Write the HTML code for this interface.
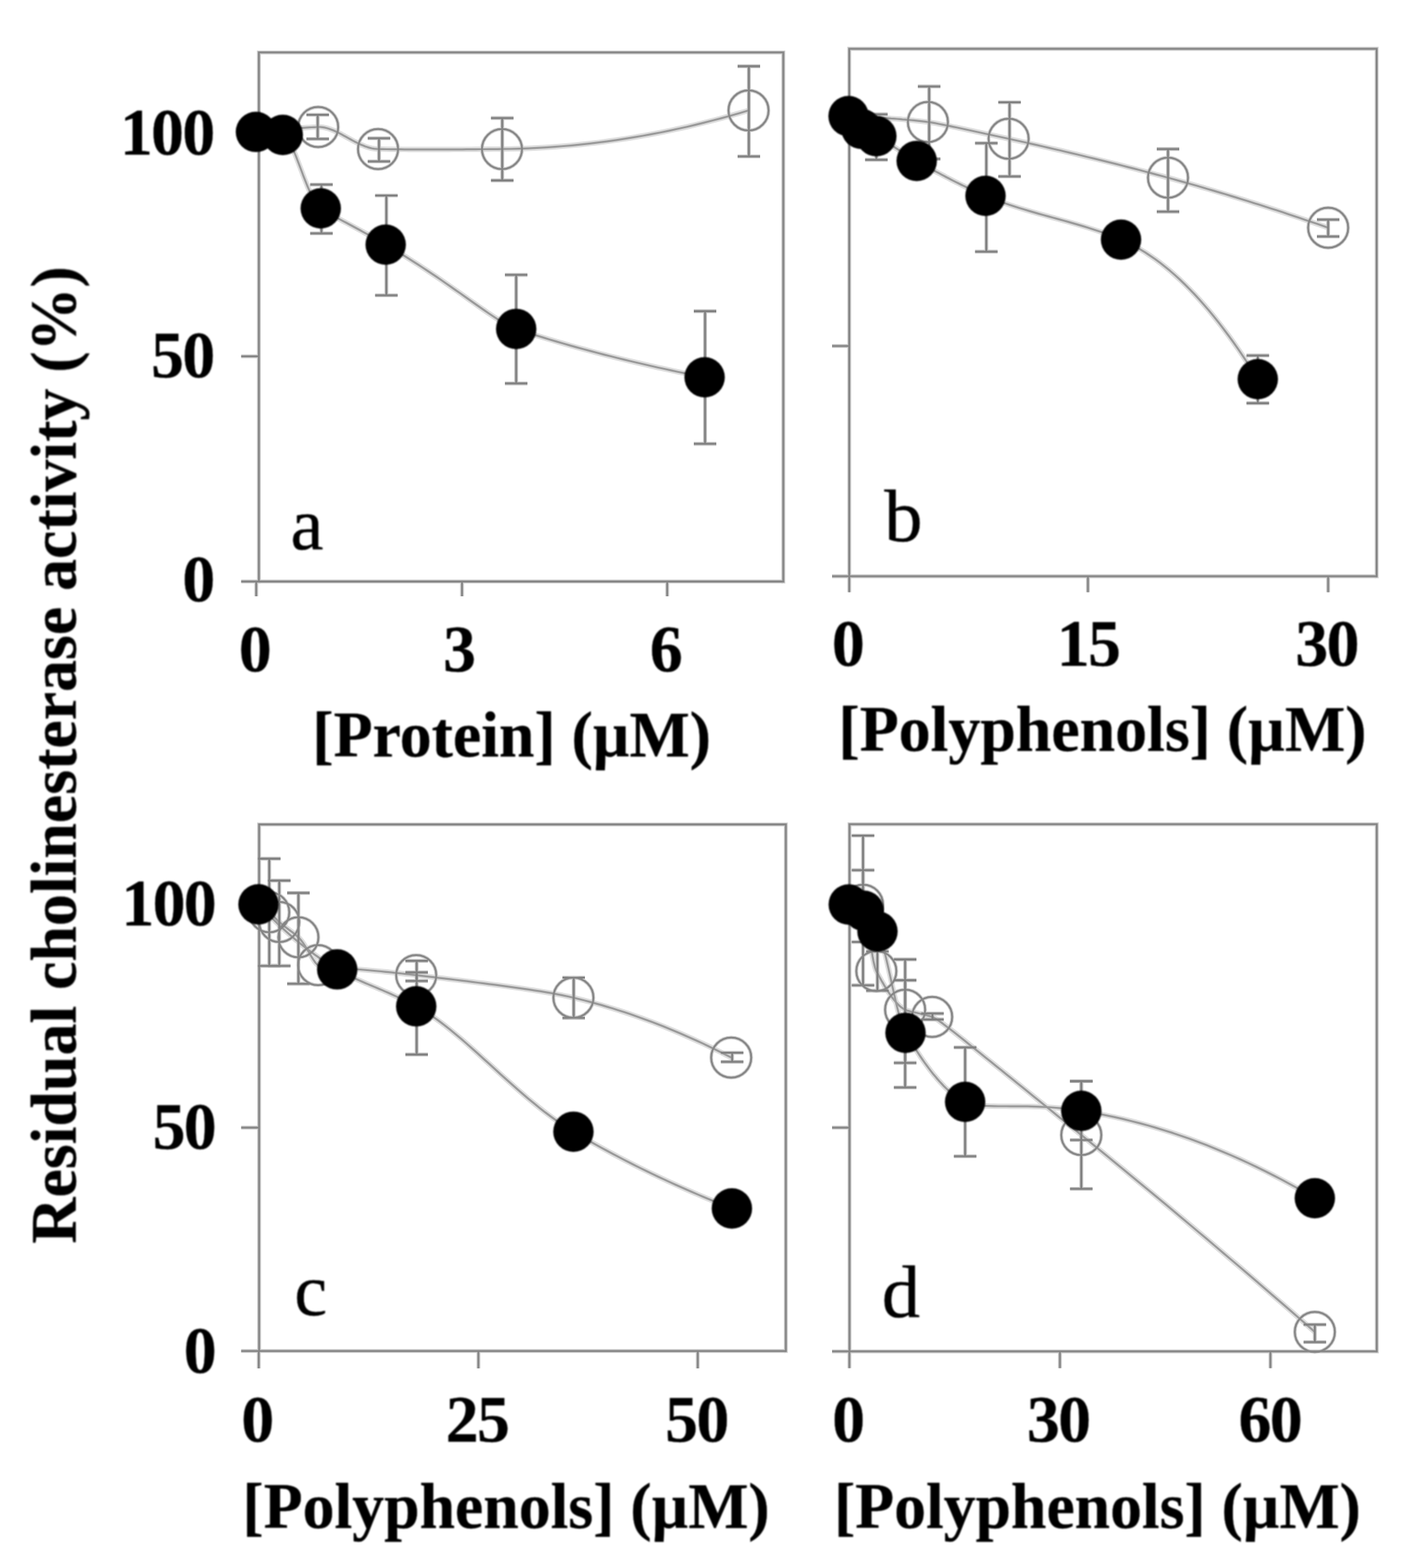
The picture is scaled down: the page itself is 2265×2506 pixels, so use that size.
<!DOCTYPE html>
<html lang="en">
<head>
<meta charset="utf-8">
<title>Residual cholinesterase activity</title>
<style>
html,body{margin:0;padding:0;background:#fff;}
body{width:2265px;height:2506px;overflow:hidden;}
svg{display:block;}
text{font-family:"Liberation Serif","DejaVu Serif",serif;fill:#000;stroke:#000;stroke-linejoin:round;}
</style>
</head>
<body>
<svg width="2265" height="2506" viewBox="0 0 2265 2506">
<defs>
<filter id="bl" x="0" y="0" width="2265" height="2506" filterUnits="userSpaceOnUse" color-interpolation-filters="sRGB"><feGaussianBlur stdDeviation="0.75"/></filter>
<filter id="bm" x="0" y="0" width="2265" height="2506" filterUnits="userSpaceOnUse" color-interpolation-filters="sRGB"><feGaussianBlur stdDeviation="1.0"/></filter>
<filter id="bt" x="0" y="0" width="2265" height="2506" filterUnits="userSpaceOnUse" color-interpolation-filters="sRGB"><feGaussianBlur stdDeviation="1.1"/></filter>
</defs>
<rect x="0" y="0" width="2265" height="2506" fill="#fff"/>
<g id="lines" filter="url(#bl)">
<g id="halo">
<path d="M413.8,929.4 V83.8 H1252.1 V929.4" fill="none" stroke-linecap="square" stroke="#cecece" stroke-width="6.3"/>
<line x1="385.5" y1="929.4" x2="1252.1" y2="929.4" stroke="#cecece" stroke-width="6.3"/>
<line x1="385.5" y1="569.5" x2="413.8" y2="569.5" stroke="#cecece" stroke-width="6.3"/>
<line x1="409.6" y1="929.4" x2="409.6" y2="953" stroke="#cecece" stroke-width="6.3"/>
<line x1="738.5" y1="929.4" x2="738.5" y2="953" stroke="#cecece" stroke-width="6.3"/>
<line x1="1066.5" y1="929.4" x2="1066.5" y2="953" stroke="#cecece" stroke-width="6.3"/>
<path d="M409.1,210.8 L412.7,210.4 L416.2,210 L419.8,209.7 L423.3,209.3 L426.9,208.9 L430.4,208.6 L434,208.2 L437.5,207.9 L441.1,207.6 L444.6,207.3 L448.2,207 L451.7,206.7 L455.3,206.4 L458.9,206.1 L462.4,205.8 L466,205.6 L469.5,205.3 L473.1,205 L476.6,204.8 L480.2,204.6 L483.7,204.3 L487.3,204.1 L490.8,203.9 L494.4,203.7 L497.9,203.5 L501.5,203.3 L505,203.2 L508.6,203 L512,203 L515.4,203.3 L518.9,203.9 L522.3,204.7 L525.7,205.7 L529.1,206.9 L532.5,208.3 L535.9,209.8 L539.4,211.4 L542.8,213.1 L546.2,214.9 L549.6,216.8 L553,218.7 L556.5,220.6 L559.9,222.5 L563.3,224.4 L566.7,226.2 L570.1,227.9 L573.5,229.6 L577,231.2 L580.4,232.6 L583.8,234 L587.2,235.1 L590.6,236.1 L594,237 L597.5,237.6 L600.9,238 L604.3,238.2 L611.4,238.3 L618.4,238.5 L625.5,238.6 L632.6,238.7 L639.7,238.7 L646.8,238.8 L653.8,238.9 L660.9,238.9 L668,238.9 L675,238.9 L682.1,238.9 L689.2,238.9 L696.3,238.9 L703.3,238.9 L710.4,238.9 L717.5,238.9 L724.6,238.8 L731.6,238.8 L738.7,238.8 L745.8,238.7 L752.9,238.7 L760,238.6 L767,238.5 L774.1,238.5 L781.2,238.4 L788.2,238.3 L795.3,238.3 L802.4,238.2 L816.5,238 L830.5,237.6 L844.6,237.1 L858.7,236.4 L872.8,235.6 L886.8,234.6 L900.9,233.5 L915,232.3 L929.1,230.9 L943.1,229.3 L957.2,227.7 L971.3,225.8 L985.4,223.8 L999.4,221.7 L1013.5,219.4 L1027.6,217 L1041.7,214.4 L1055.8,211.7 L1069.8,208.9 L1083.9,205.8 L1098,202.7 L1112,199.4 L1126.1,195.9 L1140.2,192.3 L1154.3,188.6 L1168.3,184.7 L1182.4,180.7 L1196.5,176.5" fill="none" stroke-linejoin="round" stroke="#dedede" stroke-width="8.6"/>
<path d="M409.1,210.8 L410.6,211 L412.2,211.1 L413.7,211.3 L415.2,211.5 L416.8,211.6 L418.3,211.8 L419.8,212 L421.4,212.1 L422.9,212.3 L424.4,212.5 L426,212.6 L427.5,212.8 L429,213 L430.6,213.1 L432.1,213.3 L433.6,213.5 L435.1,213.7 L436.7,213.8 L438.2,214 L439.7,214.2 L441.3,214.4 L442.8,214.5 L444.3,214.7 L445.9,214.9 L447.4,215.1 L448.9,215.2 L450.5,215.4 L452,215.6 L454.2,216.3 L456.3,217.9 L458.5,220.3 L460.7,223.4 L462.8,227 L465,231.2 L467.2,235.8 L469.3,240.7 L471.5,246 L473.7,251.4 L475.8,257 L478,262.8 L480.2,268.5 L482.4,274.3 L484.5,280 L486.7,285.7 L488.9,291.2 L491,296.5 L493.2,301.6 L495.4,306.5 L497.5,311.1 L499.7,315.4 L501.9,319.4 L504,322.9 L506.2,326.1 L508.4,328.9 L510.5,331.2 L512.7,333 L516.4,335.5 L520.1,337.8 L523.8,340 L527.5,342.1 L531.2,344.2 L534.9,346.2 L538.7,348.2 L542.4,350.1 L546.1,352.1 L549.8,354.1 L553.5,356 L557.2,358 L560.9,360 L564.6,362 L568.3,364 L572,366 L575.7,368 L579.4,370.1 L583.1,372.1 L586.8,374.1 L590.5,376.2 L594.3,378.3 L598,380.4 L601.7,382.5 L605.4,384.6 L609.1,386.7 L612.8,388.8 L616.5,391 L624,395.4 L631.4,399.8 L638.9,404.3 L646.3,408.9 L653.8,413.6 L661.2,418.3 L668.7,423.1 L676.1,428 L683.5,432.9 L691,437.9 L698.5,442.9 L705.9,448 L713.4,453.2 L720.8,458.4 L728.2,463.6 L735.7,468.8 L743.2,474.1 L750.6,479.4 L758,484.6 L765.5,489.9 L773,495.1 L780.4,500.2 L787.9,505.3 L795.3,510.1 L802.8,514.7 L810.2,519 L817.7,522.7 L825.1,525.7 L835.9,529.2 L846.6,532.7 L857.4,536.1 L868.1,539.4 L878.9,542.7 L889.6,545.9 L900.4,549 L911.2,552.1 L921.9,555.1 L932.7,558 L943.4,560.9 L954.2,563.8 L964.9,566.6 L975.7,569.3 L986.5,572 L997.2,574.6 L1008,577.2 L1018.7,579.8 L1029.5,582.3 L1040.2,584.7 L1051,587.2 L1061.8,589.5 L1072.5,591.9 L1083.3,594.2 L1094,596.4 L1104.8,598.7 L1115.5,600.8 L1126.3,603" fill="none" stroke-linejoin="round" stroke="#dedede" stroke-width="8.6"/>
<line x1="507.8" y1="183.5" x2="507.8" y2="222" stroke="#c6c6c6" stroke-width="6.2"/>
<line x1="489.8" y1="183.5" x2="525.8" y2="183.5" stroke="#c6c6c6" stroke-width="6.2"/>
<line x1="489.8" y1="222" x2="525.8" y2="222" stroke="#c6c6c6" stroke-width="6.2"/>
<line x1="605.8" y1="221" x2="605.8" y2="258" stroke="#c6c6c6" stroke-width="6.2"/>
<line x1="587.8" y1="221" x2="623.8" y2="221" stroke="#c6c6c6" stroke-width="6.2"/>
<line x1="587.8" y1="258" x2="623.8" y2="258" stroke="#c6c6c6" stroke-width="6.2"/>
<line x1="802.8" y1="188.7" x2="802.8" y2="288.4" stroke="#c6c6c6" stroke-width="6.2"/>
<line x1="784.8" y1="188.7" x2="820.8" y2="188.7" stroke="#c6c6c6" stroke-width="6.2"/>
<line x1="784.8" y1="288.4" x2="820.8" y2="288.4" stroke="#c6c6c6" stroke-width="6.2"/>
<line x1="1197" y1="105.9" x2="1197" y2="250" stroke="#c6c6c6" stroke-width="6.2"/>
<line x1="1179" y1="105.9" x2="1215" y2="105.9" stroke="#c6c6c6" stroke-width="6.2"/>
<line x1="1179" y1="250" x2="1215" y2="250" stroke="#c6c6c6" stroke-width="6.2"/>
<circle cx="508.6" cy="203" r="31.999999999999996" fill="none" stroke="#d2d2d2" stroke-width="5.9"/>
<circle cx="604.3" cy="238.2" r="31.999999999999996" fill="none" stroke="#d2d2d2" stroke-width="5.9"/>
<circle cx="802.4" cy="238.2" r="31.999999999999996" fill="none" stroke="#d2d2d2" stroke-width="5.9"/>
<circle cx="1196.5" cy="176.5" r="31.999999999999996" fill="none" stroke="#d2d2d2" stroke-width="5.9"/>
<line x1="513.8" y1="295" x2="513.8" y2="373" stroke="#c6c6c6" stroke-width="6.2"/>
<line x1="495.8" y1="295" x2="531.8" y2="295" stroke="#c6c6c6" stroke-width="6.2"/>
<line x1="495.8" y1="373" x2="531.8" y2="373" stroke="#c6c6c6" stroke-width="6.2"/>
<line x1="617.6" y1="312.5" x2="617.6" y2="472" stroke="#c6c6c6" stroke-width="6.2"/>
<line x1="599.6" y1="312.5" x2="635.6" y2="312.5" stroke="#c6c6c6" stroke-width="6.2"/>
<line x1="599.6" y1="472" x2="635.6" y2="472" stroke="#c6c6c6" stroke-width="6.2"/>
<line x1="825.1" y1="439.3" x2="825.1" y2="612.8" stroke="#c6c6c6" stroke-width="6.2"/>
<line x1="807.1" y1="439.3" x2="843.1" y2="439.3" stroke="#c6c6c6" stroke-width="6.2"/>
<line x1="807.1" y1="612.8" x2="843.1" y2="612.8" stroke="#c6c6c6" stroke-width="6.2"/>
<line x1="1127" y1="497.4" x2="1127" y2="709.3" stroke="#c6c6c6" stroke-width="6.2"/>
<line x1="1109" y1="497.4" x2="1145" y2="497.4" stroke="#c6c6c6" stroke-width="6.2"/>
<line x1="1109" y1="709.3" x2="1145" y2="709.3" stroke="#c6c6c6" stroke-width="6.2"/>
<path d="M1357.5,921 V78 H2200.5 V921" fill="none" stroke-linecap="square" stroke="#cecece" stroke-width="6.3"/>
<line x1="1330" y1="921" x2="2200.5" y2="921" stroke="#cecece" stroke-width="6.3"/>
<line x1="1330" y1="553" x2="1357.5" y2="553" stroke="#cecece" stroke-width="6.3"/>
<line x1="1357.5" y1="921" x2="1357.5" y2="946.5" stroke="#cecece" stroke-width="6.3"/>
<line x1="1739" y1="921" x2="1739" y2="946.5" stroke="#cecece" stroke-width="6.3"/>
<line x1="2123" y1="921" x2="2123" y2="946.5" stroke="#cecece" stroke-width="6.3"/>
<path d="M1356.4,185.6 L1360.9,185.8 L1365.5,186 L1370,186.2 L1374.5,186.4 L1379,186.6 L1383.6,186.9 L1388.1,187.1 L1392.6,187.4 L1397.2,187.6 L1401.7,187.9 L1406.2,188.2 L1410.7,188.4 L1415.3,188.7 L1419.8,189 L1424.3,189.4 L1428.9,189.7 L1433.4,190 L1437.9,190.4 L1442.4,190.8 L1447,191.1 L1451.5,191.6 L1456,192 L1460.6,192.4 L1465.1,192.9 L1469.6,193.4 L1474.1,193.9 L1478.7,194.4 L1483.2,195 L1487.8,195.7 L1492.4,196.4 L1497,197.3 L1501.6,198.2 L1506.2,199.1 L1510.8,200 L1515.5,200.9 L1520.1,201.9 L1524.7,202.9 L1529.3,203.8 L1533.9,204.8 L1538.5,205.8 L1543.1,206.8 L1547.7,207.8 L1552.3,208.8 L1556.9,209.8 L1561.5,210.7 L1566.1,211.7 L1570.7,212.7 L1575.3,213.8 L1580,214.8 L1584.6,215.8 L1589.2,216.8 L1593.8,217.8 L1598.4,218.8 L1603,219.8 L1607.6,220.8 L1612.2,221.8 L1621.3,223.8 L1630.4,225.8 L1639.5,227.8 L1648.6,229.9 L1657.7,231.9 L1666.8,234 L1675.9,236.1 L1685,238.2 L1694.1,240.3 L1703.2,242.5 L1712.3,244.6 L1721.4,246.8 L1730.5,249 L1739.6,251.2 L1748.7,253.4 L1757.8,255.6 L1766.9,257.9 L1776,260.1 L1785.1,262.4 L1794.2,264.7 L1803.3,267.1 L1812.4,269.4 L1821.5,271.8 L1830.6,274.2 L1839.7,276.6 L1848.8,279.1 L1857.9,281.5 L1867,284 L1876.1,286.5 L1885.3,289.1 L1894.4,291.6 L1903.6,294.2 L1912.7,296.8 L1921.9,299.5 L1931,302.2 L1940.1,304.9 L1949.3,307.6 L1958.4,310.3 L1967.6,313.1 L1976.7,315.9 L1985.9,318.7 L1995,321.5 L2004.1,324.4 L2013.3,327.3 L2022.4,330.2 L2031.6,333.2 L2040.7,336.1 L2049.9,339.1 L2059,342.2 L2068.1,345.2 L2077.3,348.3 L2086.4,351.4 L2095.6,354.5 L2104.7,357.6 L2113.9,360.8 L2123,364" fill="none" stroke-linejoin="round" stroke="#dedede" stroke-width="8.6"/>
<path d="M1356.4,185.6 L1357.1,186.6 L1357.9,187.6 L1358.6,188.5 L1359.3,189.5 L1360.1,190.4 L1360.8,191.3 L1361.6,192.1 L1362.3,193 L1363,193.8 L1363.8,194.7 L1364.5,195.4 L1365.2,196.2 L1366,197 L1366.7,197.7 L1367.4,198.4 L1368.2,199.1 L1368.9,199.8 L1369.6,200.5 L1370.4,201.1 L1371.1,201.7 L1371.8,202.3 L1372.6,202.9 L1373.3,203.5 L1374.1,204 L1374.8,204.5 L1375.5,205.1 L1376.3,205.5 L1377,206 L1377.8,206.5 L1378.7,207 L1379.5,207.4 L1380.4,207.8 L1381.2,208.2 L1382.1,208.6 L1383,209 L1383.8,209.4 L1384.7,209.8 L1385.5,210.2 L1386.3,210.6 L1387.2,211 L1388,211.4 L1388.9,211.8 L1389.8,212.2 L1390.6,212.6 L1391.5,213 L1392.3,213.4 L1393.1,213.8 L1394,214.2 L1394.8,214.6 L1395.7,215 L1396.5,215.5 L1397.4,215.9 L1398.2,216.3 L1399.1,216.7 L1400,217.2 L1400.8,217.6 L1403.1,218.8 L1405.4,220.1 L1407.7,221.4 L1410,222.8 L1412.3,224.2 L1414.6,225.6 L1416.9,227 L1419.2,228.5 L1421.5,230 L1423.8,231.4 L1426.1,232.9 L1428.4,234.4 L1430.7,235.9 L1433,237.4 L1435.4,238.9 L1437.7,240.4 L1440,241.8 L1442.3,243.3 L1444.6,244.8 L1446.9,246.2 L1449.2,247.6 L1451.5,249 L1453.8,250.4 L1456.1,251.8 L1458.4,253.2 L1460.7,254.6 L1463,255.9 L1465.3,257.2 L1469.2,259.4 L1473.2,261.6 L1477.1,263.8 L1481,266 L1484.9,268.2 L1488.9,270.3 L1492.8,272.5 L1496.7,274.6 L1500.7,276.7 L1504.6,278.8 L1508.5,280.9 L1512.4,283 L1516.4,285 L1520.3,287.1 L1524.2,289.1 L1528.2,291.1 L1532.1,293 L1536,295 L1539.9,296.9 L1543.9,298.8 L1547.8,300.7 L1551.7,302.5 L1555.7,304.3 L1559.6,306.1 L1563.5,307.9 L1567.4,309.6 L1571.4,311.3 L1575.3,313 L1583,316.2 L1590.8,319.2 L1598.5,322.1 L1606.2,324.8 L1614,327.5 L1621.7,330 L1629.5,332.5 L1637.2,334.8 L1644.9,337.1 L1652.7,339.4 L1660.4,341.6 L1668.1,343.7 L1675.9,345.9 L1683.6,348 L1691.3,350.1 L1699.1,352.3 L1706.8,354.4 L1714.5,356.6 L1722.3,358.9 L1730,361.1 L1737.8,363.5 L1745.5,366 L1753.2,368.5 L1761,371.1 L1768.7,373.9 L1776.4,376.8 L1784.2,379.8 L1791.9,383 L1799.7,386.5 L1807.5,390.3 L1815.3,394.4 L1823.1,398.8 L1830.9,403.6 L1838.7,408.8 L1846.6,414.2 L1854.4,420 L1862.2,426.2 L1870,432.6 L1877.8,439.4 L1885.6,446.5 L1893.4,454 L1901.2,461.8 L1909,469.9 L1916.8,478.4 L1924.6,487.2 L1932.4,496.3 L1940.2,505.8 L1948,515.6 L1955.8,525.7 L1963.7,536.2 L1971.5,547 L1979.3,558.1 L1987.1,569.6 L1994.9,581.4 L2002.7,593.5 L2010.5,606" fill="none" stroke-linejoin="round" stroke="#dedede" stroke-width="8.6"/>
<line x1="1485.2" y1="138.2" x2="1485.2" y2="254" stroke="#c6c6c6" stroke-width="6.2"/>
<line x1="1467.2" y1="138.2" x2="1503.2" y2="138.2" stroke="#c6c6c6" stroke-width="6.2"/>
<line x1="1467.2" y1="254" x2="1503.2" y2="254" stroke="#c6c6c6" stroke-width="6.2"/>
<line x1="1613.7" y1="163.5" x2="1613.7" y2="282" stroke="#c6c6c6" stroke-width="6.2"/>
<line x1="1595.7" y1="163.5" x2="1631.7" y2="163.5" stroke="#c6c6c6" stroke-width="6.2"/>
<line x1="1595.7" y1="282" x2="1631.7" y2="282" stroke="#c6c6c6" stroke-width="6.2"/>
<line x1="1867" y1="238.2" x2="1867" y2="338.3" stroke="#c6c6c6" stroke-width="6.2"/>
<line x1="1849" y1="238.2" x2="1885" y2="238.2" stroke="#c6c6c6" stroke-width="6.2"/>
<line x1="1849" y1="338.3" x2="1885" y2="338.3" stroke="#c6c6c6" stroke-width="6.2"/>
<line x1="2123" y1="351" x2="2123" y2="378" stroke="#c6c6c6" stroke-width="6.2"/>
<line x1="2105" y1="351" x2="2141" y2="351" stroke="#c6c6c6" stroke-width="6.2"/>
<line x1="2105" y1="378" x2="2141" y2="378" stroke="#c6c6c6" stroke-width="6.2"/>
<circle cx="1483.2" cy="195" r="31.999999999999996" fill="none" stroke="#d2d2d2" stroke-width="5.9"/>
<circle cx="1612.2" cy="221.8" r="31.999999999999996" fill="none" stroke="#d2d2d2" stroke-width="5.9"/>
<circle cx="1867" cy="284" r="31.999999999999996" fill="none" stroke="#d2d2d2" stroke-width="5.9"/>
<circle cx="2123" cy="364" r="31.999999999999996" fill="none" stroke="#d2d2d2" stroke-width="5.9"/>
<line x1="1400.8" y1="182.7" x2="1400.8" y2="255.4" stroke="#c6c6c6" stroke-width="6.2"/>
<line x1="1382.8" y1="182.7" x2="1418.8" y2="182.7" stroke="#c6c6c6" stroke-width="6.2"/>
<line x1="1382.8" y1="255.4" x2="1418.8" y2="255.4" stroke="#c6c6c6" stroke-width="6.2"/>
<line x1="1576.6" y1="228.8" x2="1576.6" y2="402.2" stroke="#c6c6c6" stroke-width="6.2"/>
<line x1="1558.6" y1="228.8" x2="1594.6" y2="228.8" stroke="#c6c6c6" stroke-width="6.2"/>
<line x1="1558.6" y1="402.2" x2="1594.6" y2="402.2" stroke="#c6c6c6" stroke-width="6.2"/>
<line x1="2010.5" y1="568.2" x2="2010.5" y2="644.4" stroke="#c6c6c6" stroke-width="6.2"/>
<line x1="1992.5" y1="568.2" x2="2028.5" y2="568.2" stroke="#c6c6c6" stroke-width="6.2"/>
<line x1="1992.5" y1="644.4" x2="2028.5" y2="644.4" stroke="#c6c6c6" stroke-width="6.2"/>
<path d="M414.2,2159.2 V1317.6 H1256.1 V2159.2" fill="none" stroke-linecap="square" stroke="#cecece" stroke-width="6.3"/>
<line x1="385.5" y1="2159.2" x2="1256.1" y2="2159.2" stroke="#cecece" stroke-width="6.3"/>
<line x1="385.5" y1="1802.2" x2="414.2" y2="1802.2" stroke="#cecece" stroke-width="6.3"/>
<line x1="413.6" y1="2159.2" x2="413.6" y2="2187" stroke="#cecece" stroke-width="6.3"/>
<line x1="764.7" y1="2159.2" x2="764.7" y2="2187" stroke="#cecece" stroke-width="6.3"/>
<line x1="1115.3" y1="2159.2" x2="1115.3" y2="2187" stroke="#cecece" stroke-width="6.3"/>
<path d="M413.2,1445.4 L413.8,1445.8 L414.4,1446.2 L415,1446.6 L415.7,1447 L416.3,1447.4 L416.9,1447.8 L417.5,1448.3 L418.1,1448.7 L418.7,1449.1 L419.3,1449.5 L420,1450 L420.6,1450.4 L421.2,1450.9 L421.8,1451.3 L422.4,1451.8 L423,1452.2 L423.6,1452.7 L424.3,1453.1 L424.9,1453.6 L425.5,1454.1 L426.1,1454.5 L426.7,1455 L427.3,1455.5 L427.9,1456 L428.6,1456.5 L429.2,1457 L429.8,1457.5 L430.4,1458 L431,1458.5 L431.5,1459 L432.1,1459.5 L432.7,1460 L433.3,1460.6 L433.8,1461.1 L434.4,1461.7 L435,1462.3 L435.5,1462.9 L436.1,1463.4 L436.7,1464 L437.3,1464.6 L437.8,1465.2 L438.4,1465.8 L439,1466.3 L439.5,1466.9 L440.1,1467.5 L440.7,1468.1 L441.3,1468.6 L441.8,1469.2 L442.4,1469.7 L443,1470.3 L443.5,1470.8 L444.1,1471.4 L444.7,1471.9 L445.3,1472.5 L445.8,1473 L446.4,1473.5 L447.5,1474.5 L448.6,1475.4 L449.7,1476.4 L450.8,1477.3 L451.9,1478.2 L453,1479.1 L454,1479.9 L455.1,1480.8 L456.2,1481.6 L457.3,1482.5 L458.4,1483.3 L459.5,1484.1 L460.6,1484.9 L461.7,1485.8 L462.8,1486.6 L463.9,1487.4 L465,1488.2 L466.1,1489 L467.2,1489.8 L468.3,1490.6 L469.3,1491.5 L470.4,1492.3 L471.5,1493.2 L472.6,1494.1 L473.7,1495 L474.8,1496 L475.9,1497 L477,1498 L478.1,1499.1 L479.2,1500.4 L480.4,1501.7 L481.5,1503.1 L482.6,1504.5 L483.8,1506.1 L484.9,1507.7 L486,1509.3 L487.1,1511 L488.2,1512.8 L489.4,1514.6 L490.5,1516.5 L491.6,1518.3 L492.8,1520.2 L493.9,1522.2 L495,1524.1 L496.1,1526 L497.2,1527.9 L498.4,1529.8 L499.5,1531.6 L500.6,1533.4 L501.8,1535.1 L502.9,1536.7 L504,1538.2 L505.1,1539.5 L506.2,1540.7 L507.4,1541.7 L508.5,1542.5 L514.1,1544.2 L519.7,1545 L525.3,1545.6 L530.9,1546 L536.5,1546.5 L542.1,1546.9 L547.7,1547.3 L553.3,1547.8 L558.9,1548.2 L564.5,1548.6 L570.1,1549.1 L575.7,1549.5 L581.3,1550 L586.9,1550.5 L592.5,1551 L598.1,1551.5 L603.7,1552 L609.3,1552.5 L614.9,1553.1 L620.5,1553.6 L626.1,1554.2 L631.7,1554.8 L637.3,1555.4 L642.9,1556 L648.5,1556.6 L654.1,1557.2 L659.7,1557.8 L665.3,1558.5 L674.3,1559.6 L683.2,1560.6 L692.2,1561.7 L701.2,1562.8 L710.2,1563.8 L719.1,1564.9 L728.1,1566 L737.1,1567.1 L746.1,1568.2 L755,1569.3 L764,1570.5 L773,1571.6 L782,1572.8 L791,1573.9 L799.9,1575.1 L808.9,1576.3 L817.9,1577.6 L826.9,1578.8 L835.8,1580.1 L844.8,1581.4 L853.8,1582.8 L862.8,1584.2 L871.7,1585.7 L880.7,1587.2 L889.7,1588.9 L898.7,1590.6 L907.6,1592.5 L916.6,1594.5 L925.6,1596.7 L934.6,1599 L943.6,1601.4 L952.6,1603.9 L961.6,1606.4 L970.6,1609.1 L979.6,1611.8 L988.7,1614.7 L997.7,1617.6 L1006.7,1620.6 L1015.7,1623.7 L1024.7,1626.9 L1033.7,1630.2 L1042.7,1633.5 L1051.7,1637 L1060.7,1640.6 L1069.7,1644.2 L1078.7,1647.9 L1087.7,1651.8 L1096.7,1655.7 L1105.8,1659.7 L1114.8,1663.8 L1123.8,1667.9 L1132.8,1672.2 L1141.8,1676.6 L1150.8,1681 L1159.8,1685.6 L1168.8,1690.2" fill="none" stroke-linejoin="round" stroke="#dedede" stroke-width="8.6"/>
<path d="M413.2,1445.4 L417.7,1450.1 L422.2,1454.8 L426.7,1459.4 L431.2,1463.9 L435.7,1468.3 L440.2,1472.7 L444.6,1477 L449.1,1481.2 L453.6,1485.3 L458.1,1489.4 L462.6,1493.4 L467.1,1497.3 L471.6,1501.1 L476.1,1504.8 L480.6,1508.5 L485.1,1512.1 L489.6,1515.6 L494.1,1519.1 L498.6,1522.4 L503.1,1525.7 L507.6,1528.9 L512,1532.1 L516.5,1535.1 L521,1538.1 L525.5,1541 L530,1543.9 L534.5,1546.6 L539,1549.3 L543.5,1551.9 L548,1554.3 L552.5,1556.7 L557,1558.9 L561.6,1561.1 L566.1,1563.2 L570.6,1565.3 L575.1,1567.3 L579.6,1569.2 L584.1,1571.2 L588.6,1573.1 L593.1,1575 L597.6,1576.9 L602.1,1578.8 L606.7,1580.7 L611.2,1582.6 L615.7,1584.6 L620.2,1586.5 L624.7,1588.5 L629.2,1590.6 L633.7,1592.6 L638.2,1594.7 L642.7,1596.9 L647.3,1599.1 L651.8,1601.3 L656.3,1603.6 L660.8,1605.9 L665.3,1608.3 L674.3,1613.4 L683.2,1619 L692.2,1625 L701.2,1631.4 L710.2,1638.2 L719.1,1645.3 L728.1,1652.7 L737.1,1660.3 L746.1,1668.1 L755,1676 L764,1684 L773,1692.2 L782,1700.3 L791,1708.5 L799.9,1716.7 L808.9,1724.8 L817.9,1732.8 L826.9,1740.7 L835.8,1748.5 L844.8,1756.2 L853.8,1763.6 L862.8,1770.9 L871.7,1777.9 L880.7,1784.6 L889.7,1791.1 L898.7,1797.3 L907.6,1803.2 L916.6,1808.7 L925.6,1814 L934.7,1819.3 L943.7,1824.5 L952.8,1829.6 L961.8,1834.6 L970.9,1839.5 L979.9,1844.4 L989,1849.2 L998,1853.9 L1007.1,1858.5 L1016.1,1863.1 L1025.2,1867.6 L1034.2,1872 L1043.2,1876.4 L1052.3,1880.7 L1061.3,1884.9 L1070.4,1889.1 L1079.4,1893.2 L1088.5,1897.3 L1097.5,1901.3 L1106.6,1905.3 L1115.6,1909.1 L1124.7,1913 L1133.7,1916.8 L1142.8,1920.5 L1151.8,1924.2 L1160.9,1927.8 L1169.9,1931.4" fill="none" stroke-linejoin="round" stroke="#dedede" stroke-width="8.6"/>
<line x1="430.4" y1="1372.4" x2="430.4" y2="1543.7" stroke="#c6c6c6" stroke-width="6.2"/>
<line x1="412.4" y1="1372.4" x2="448.4" y2="1372.4" stroke="#c6c6c6" stroke-width="6.2"/>
<line x1="412.4" y1="1543.7" x2="448.4" y2="1543.7" stroke="#c6c6c6" stroke-width="6.2"/>
<line x1="446.4" y1="1407.4" x2="446.4" y2="1543.7" stroke="#c6c6c6" stroke-width="6.2"/>
<line x1="428.4" y1="1407.4" x2="464.4" y2="1407.4" stroke="#c6c6c6" stroke-width="6.2"/>
<line x1="428.4" y1="1543.7" x2="464.4" y2="1543.7" stroke="#c6c6c6" stroke-width="6.2"/>
<line x1="477" y1="1427.1" x2="477" y2="1572.3" stroke="#c6c6c6" stroke-width="6.2"/>
<line x1="459" y1="1427.1" x2="495" y2="1427.1" stroke="#c6c6c6" stroke-width="6.2"/>
<line x1="459" y1="1572.3" x2="495" y2="1572.3" stroke="#c6c6c6" stroke-width="6.2"/>
<line x1="666" y1="1554.1" x2="666" y2="1567.8" stroke="#c6c6c6" stroke-width="6.2"/>
<line x1="648" y1="1554.1" x2="684" y2="1554.1" stroke="#c6c6c6" stroke-width="6.2"/>
<line x1="648" y1="1567.8" x2="684" y2="1567.8" stroke="#c6c6c6" stroke-width="6.2"/>
<line x1="917" y1="1562.5" x2="917" y2="1626.8" stroke="#c6c6c6" stroke-width="6.2"/>
<line x1="899" y1="1562.5" x2="935" y2="1562.5" stroke="#c6c6c6" stroke-width="6.2"/>
<line x1="899" y1="1626.8" x2="935" y2="1626.8" stroke="#c6c6c6" stroke-width="6.2"/>
<line x1="1170.3" y1="1682.5" x2="1170.3" y2="1697" stroke="#c6c6c6" stroke-width="6.2"/>
<line x1="1152.3" y1="1682.5" x2="1188.3" y2="1682.5" stroke="#c6c6c6" stroke-width="6.2"/>
<line x1="1152.3" y1="1697" x2="1188.3" y2="1697" stroke="#c6c6c6" stroke-width="6.2"/>
<circle cx="430.4" cy="1458" r="31.999999999999996" fill="none" stroke="#d2d2d2" stroke-width="5.9"/>
<circle cx="446.4" cy="1473.5" r="31.999999999999996" fill="none" stroke="#d2d2d2" stroke-width="5.9"/>
<circle cx="477" cy="1498" r="31.999999999999996" fill="none" stroke="#d2d2d2" stroke-width="5.9"/>
<circle cx="508.5" cy="1542.5" r="31.999999999999996" fill="none" stroke="#d2d2d2" stroke-width="5.9"/>
<circle cx="665.3" cy="1558.5" r="31.999999999999996" fill="none" stroke="#d2d2d2" stroke-width="5.9"/>
<circle cx="916.6" cy="1594.5" r="31.999999999999996" fill="none" stroke="#d2d2d2" stroke-width="5.9"/>
<circle cx="1168.8" cy="1690.2" r="31.999999999999996" fill="none" stroke="#d2d2d2" stroke-width="5.9"/>
<line x1="666" y1="1535.6" x2="666" y2="1685.4" stroke="#c6c6c6" stroke-width="6.2"/>
<line x1="648" y1="1535.6" x2="684" y2="1535.6" stroke="#c6c6c6" stroke-width="6.2"/>
<line x1="648" y1="1685.4" x2="684" y2="1685.4" stroke="#c6c6c6" stroke-width="6.2"/>
<path d="M1357.9,2159.8 V1317.3 H2200.7 V2159.8" fill="none" stroke-linecap="square" stroke="#cecece" stroke-width="6.3"/>
<line x1="1330" y1="2159.8" x2="2200.7" y2="2159.8" stroke="#cecece" stroke-width="6.3"/>
<line x1="1330" y1="1802.2" x2="1357.9" y2="1802.2" stroke="#cecece" stroke-width="6.3"/>
<line x1="1357.7" y1="2159.8" x2="1357.7" y2="2186.6" stroke="#cecece" stroke-width="6.3"/>
<line x1="1694.2" y1="2159.8" x2="1694.2" y2="2186.6" stroke="#cecece" stroke-width="6.3"/>
<line x1="2030.7" y1="2159.8" x2="2030.7" y2="2186.6" stroke="#cecece" stroke-width="6.3"/>
<path d="M1356.7,1445.6 L1357.5,1445.6 L1358.3,1445.6 L1359.1,1445.6 L1360,1445.6 L1360.8,1445.6 L1361.6,1445.6 L1362.4,1445.6 L1363.2,1445.6 L1364,1445.6 L1364.8,1445.6 L1365.7,1445.6 L1366.5,1445.6 L1367.3,1445.7 L1368.1,1445.7 L1368.9,1445.7 L1369.7,1445.7 L1370.5,1445.7 L1371.4,1445.7 L1372.2,1445.7 L1373,1445.7 L1373.8,1445.7 L1374.6,1445.8 L1375.4,1445.8 L1376.2,1445.8 L1377.1,1445.8 L1377.9,1445.9 L1378.7,1445.9 L1379.5,1446 L1380.3,1446.5 L1381,1447.9 L1381.8,1450 L1382.5,1452.8 L1383.3,1456.1 L1384.1,1459.9 L1384.8,1464 L1385.6,1468.5 L1386.3,1473.3 L1387.1,1478.2 L1387.9,1483.3 L1388.6,1488.5 L1389.4,1493.8 L1390.2,1499 L1390.9,1504.2 L1391.7,1509.3 L1392.4,1514.3 L1393.2,1519.1 L1394,1523.7 L1394.7,1528.1 L1395.5,1532.2 L1396.2,1536.1 L1397,1539.6 L1397.8,1542.9 L1398.5,1545.7 L1399.3,1548.2 L1400,1550.3 L1400.8,1552 L1402.4,1555.1 L1404.1,1558.2 L1405.7,1561.3 L1407.4,1564.2 L1409,1567.2 L1410.7,1570.1 L1412.3,1572.9 L1413.9,1575.7 L1415.6,1578.4 L1417.2,1581 L1418.9,1583.6 L1420.5,1586.1 L1422.2,1588.6 L1423.8,1590.9 L1425.4,1593.2 L1427.1,1595.4 L1428.7,1597.5 L1430.4,1599.6 L1432,1601.5 L1433.7,1603.3 L1435.3,1605.1 L1436.9,1606.7 L1438.6,1608.2 L1440.2,1609.6 L1441.9,1610.8 L1443.5,1611.9 L1445.2,1612.9 L1446.8,1613.7 L1448.3,1614.3 L1449.9,1614.9 L1451.4,1615.4 L1453,1615.8 L1454.5,1616.2 L1456.1,1616.6 L1457.6,1617 L1459.1,1617.3 L1460.7,1617.7 L1462.2,1618 L1463.8,1618.4 L1465.3,1618.7 L1466.9,1619.1 L1468.4,1619.5 L1469.9,1619.8 L1471.5,1620.2 L1473,1620.6 L1474.6,1620.9 L1476.1,1621.3 L1477.7,1621.7 L1479.2,1622.1 L1480.7,1622.5 L1482.3,1623 L1483.8,1623.4 L1485.4,1623.8 L1486.9,1624.3 L1488.5,1624.7 L1490,1625.2 L1498.5,1629.8 L1507,1635.9 L1515.5,1642.4 L1524.1,1649 L1532.6,1655.8 L1541.1,1662.5 L1549.6,1669.4 L1558.1,1676.2 L1566.6,1683.1 L1575.1,1689.9 L1583.7,1696.8 L1592.2,1703.7 L1600.7,1710.5 L1609.2,1717.4 L1617.7,1724.3 L1626.2,1731.2 L1634.7,1738.1 L1643.3,1745 L1651.8,1751.9 L1660.3,1758.8 L1668.8,1765.7 L1677.3,1772.6 L1685.8,1779.5 L1694.3,1786.4 L1702.9,1793.3 L1711.4,1800.2 L1719.9,1807.1 L1728.4,1814 L1741.7,1824.8 L1755.1,1835.7 L1768.4,1846.6 L1781.7,1857.5 L1795.1,1868.4 L1808.4,1879.4 L1821.7,1890.4 L1835.1,1901.5 L1848.4,1912.5 L1861.7,1923.6 L1875.1,1934.8 L1888.4,1945.9 L1901.7,1957.1 L1915,1968.4 L1928.4,1979.6 L1941.7,1990.9 L1955,2002.2 L1968.4,2013.6 L1981.7,2024.9 L1995,2036.3 L2008.4,2047.8 L2021.7,2059.2 L2035,2070.7 L2048.4,2082.3 L2061.7,2093.8 L2075,2105.4 L2088.4,2117 L2101.7,2128.7" fill="none" stroke-linejoin="round" stroke="#dedede" stroke-width="8.6"/>
<path d="M1356.7,1445.6 L1357.6,1445.8 L1358.4,1446.1 L1359.3,1446.3 L1360.1,1446.6 L1361,1446.9 L1361.8,1447.1 L1362.7,1447.4 L1363.6,1447.7 L1364.4,1448 L1365.3,1448.3 L1366.1,1448.6 L1367,1448.9 L1367.8,1449.3 L1368.7,1449.6 L1369.6,1449.9 L1370.4,1450.3 L1371.3,1450.7 L1372.1,1451 L1373,1451.4 L1373.8,1451.8 L1374.7,1452.3 L1375.6,1452.7 L1376.4,1453.1 L1377.3,1453.6 L1378.1,1454.1 L1379,1454.6 L1379.8,1455.1 L1380.7,1455.6 L1381.5,1456.2 L1382.3,1456.9 L1383,1457.8 L1383.8,1458.8 L1384.6,1459.8 L1385.4,1460.9 L1386.2,1462 L1387,1463.1 L1387.7,1464.3 L1388.5,1465.5 L1389.3,1466.7 L1390.1,1467.9 L1390.9,1469.2 L1391.7,1470.4 L1392.4,1471.7 L1393.2,1472.9 L1394,1474.2 L1394.8,1475.5 L1395.6,1476.8 L1396.3,1478.1 L1397.1,1479.4 L1397.9,1480.7 L1398.7,1482 L1399.5,1483.3 L1400.3,1484.6 L1401,1486 L1401.8,1487.3 L1402.6,1488.6 L1404.2,1491.6 L1405.8,1495.3 L1407.4,1499.5 L1409,1504.2 L1410.6,1509.4 L1412.2,1515 L1413.8,1521 L1415.4,1527.4 L1417,1534 L1418.6,1540.8 L1420.2,1547.9 L1421.8,1555.1 L1423.4,1562.3 L1425,1569.7 L1426.6,1577 L1428.2,1584.2 L1429.8,1591.4 L1431.4,1598.5 L1433,1605.3 L1434.6,1611.9 L1436.2,1618.3 L1437.8,1624.3 L1439.4,1629.9 L1441,1635.1 L1442.6,1639.8 L1444.2,1644 L1445.8,1647.7 L1447.4,1650.7 L1450.8,1656.4 L1454.2,1662 L1457.6,1667.5 L1461,1672.9 L1464.4,1678.2 L1467.8,1683.4 L1471.2,1688.5 L1474.6,1693.5 L1478,1698.3 L1481.4,1703 L1484.8,1707.6 L1488.2,1712.1 L1491.6,1716.4 L1495.1,1720.6 L1498.5,1724.6 L1501.9,1728.5 L1505.3,1732.2 L1508.7,1735.8 L1512.1,1739.2 L1515.5,1742.4 L1518.9,1745.5 L1522.3,1748.3 L1525.7,1751 L1529.1,1753.4 L1532.5,1755.6 L1535.9,1757.7 L1539.3,1759.5 L1542.7,1761 L1549.3,1763.3 L1556,1765 L1562.6,1766.1 L1569.2,1766.8 L1575.9,1767.4 L1582.5,1767.7 L1589.1,1767.9 L1595.8,1768 L1602.4,1768 L1609,1768 L1615.7,1768.1 L1622.3,1768.1 L1628.9,1768.1 L1635.6,1768.2 L1642.2,1768.2 L1648.8,1768.4 L1655.4,1768.6 L1662.1,1768.8 L1668.7,1769.1 L1675.3,1769.5 L1682,1770 L1688.6,1770.5 L1695.2,1771.1 L1701.9,1771.8 L1708.5,1772.5 L1715.1,1773.4 L1721.8,1774.3 L1728.4,1775.3 L1741.7,1777.5 L1755.1,1779.9 L1768.4,1782.6 L1781.7,1785.4 L1795.1,1788.4 L1808.4,1791.7 L1821.7,1795.1 L1835.1,1798.8 L1848.4,1802.6 L1861.7,1806.7 L1875.1,1810.9 L1888.4,1815.4 L1901.7,1820.1 L1915,1825 L1928.4,1830.1 L1941.7,1835.4 L1955,1840.9 L1968.4,1846.6 L1981.7,1852.5 L1995,1858.6 L2008.4,1865 L2021.7,1871.5 L2035,1878.2 L2048.4,1885.2 L2061.7,1892.3 L2075,1899.7 L2088.4,1907.2 L2101.7,1915" fill="none" stroke-linejoin="round" stroke="#dedede" stroke-width="8.6"/>
<line x1="1379.5" y1="1335.5" x2="1379.5" y2="1574.7" stroke="#c6c6c6" stroke-width="6.2"/>
<line x1="1361.5" y1="1335.5" x2="1397.5" y2="1335.5" stroke="#c6c6c6" stroke-width="6.2"/>
<line x1="1361.5" y1="1574.7" x2="1397.5" y2="1574.7" stroke="#c6c6c6" stroke-width="6.2"/>
<line x1="1402.5" y1="1520.7" x2="1402.5" y2="1583.3" stroke="#c6c6c6" stroke-width="6.2"/>
<line x1="1384.5" y1="1520.7" x2="1420.5" y2="1520.7" stroke="#c6c6c6" stroke-width="6.2"/>
<line x1="1384.5" y1="1583.3" x2="1420.5" y2="1583.3" stroke="#c6c6c6" stroke-width="6.2"/>
<line x1="1446.8" y1="1533.4" x2="1446.8" y2="1698.7" stroke="#c6c6c6" stroke-width="6.2"/>
<line x1="1428.8" y1="1533.4" x2="1464.8" y2="1533.4" stroke="#c6c6c6" stroke-width="6.2"/>
<line x1="1428.8" y1="1698.7" x2="1464.8" y2="1698.7" stroke="#c6c6c6" stroke-width="6.2"/>
<line x1="1490.5" y1="1619.8" x2="1490.5" y2="1629.4" stroke="#c6c6c6" stroke-width="6.2"/>
<line x1="1472.5" y1="1619.8" x2="1508.5" y2="1619.8" stroke="#c6c6c6" stroke-width="6.2"/>
<line x1="1472.5" y1="1629.4" x2="1508.5" y2="1629.4" stroke="#c6c6c6" stroke-width="6.2"/>
<line x1="1728.4" y1="1728" x2="1728.4" y2="1900" stroke="#c6c6c6" stroke-width="6.2"/>
<line x1="1710.4" y1="1728" x2="1746.4" y2="1728" stroke="#c6c6c6" stroke-width="6.2"/>
<line x1="1710.4" y1="1900" x2="1746.4" y2="1900" stroke="#c6c6c6" stroke-width="6.2"/>
<line x1="2101.7" y1="2117" x2="2101.7" y2="2145" stroke="#c6c6c6" stroke-width="6.2"/>
<line x1="2083.7" y1="2117" x2="2119.7" y2="2117" stroke="#c6c6c6" stroke-width="6.2"/>
<line x1="2083.7" y1="2145" x2="2119.7" y2="2145" stroke="#c6c6c6" stroke-width="6.2"/>
<circle cx="1379.5" cy="1446" r="31.999999999999996" fill="none" stroke="#d2d2d2" stroke-width="5.9"/>
<circle cx="1400.8" cy="1552" r="31.999999999999996" fill="none" stroke="#d2d2d2" stroke-width="5.9"/>
<circle cx="1446.8" cy="1613.7" r="31.999999999999996" fill="none" stroke="#d2d2d2" stroke-width="5.9"/>
<circle cx="1490" cy="1625.2" r="31.999999999999996" fill="none" stroke="#d2d2d2" stroke-width="5.9"/>
<circle cx="1728.4" cy="1814" r="31.999999999999996" fill="none" stroke="#d2d2d2" stroke-width="5.9"/>
<circle cx="2101.7" cy="2128.7" r="31.999999999999996" fill="none" stroke="#d2d2d2" stroke-width="5.9"/>
<line x1="1379.5" y1="1390.7" x2="1379.5" y2="1505.5" stroke="#c6c6c6" stroke-width="6.2"/>
<line x1="1361.5" y1="1390.7" x2="1397.5" y2="1390.7" stroke="#c6c6c6" stroke-width="6.2"/>
<line x1="1361.5" y1="1505.5" x2="1397.5" y2="1505.5" stroke="#c6c6c6" stroke-width="6.2"/>
<line x1="1446.8" y1="1566.6" x2="1446.8" y2="1738" stroke="#c6c6c6" stroke-width="6.2"/>
<line x1="1428.8" y1="1566.6" x2="1464.8" y2="1566.6" stroke="#c6c6c6" stroke-width="6.2"/>
<line x1="1428.8" y1="1738" x2="1464.8" y2="1738" stroke="#c6c6c6" stroke-width="6.2"/>
<line x1="1542.7" y1="1674" x2="1542.7" y2="1848" stroke="#c6c6c6" stroke-width="6.2"/>
<line x1="1524.7" y1="1674" x2="1560.7" y2="1674" stroke="#c6c6c6" stroke-width="6.2"/>
<line x1="1524.7" y1="1848" x2="1560.7" y2="1848" stroke="#c6c6c6" stroke-width="6.2"/>
<line x1="1728.4" y1="1728" x2="1728.4" y2="1822" stroke="#c6c6c6" stroke-width="6.2"/>
<line x1="1710.4" y1="1728" x2="1746.4" y2="1728" stroke="#c6c6c6" stroke-width="6.2"/>
<line x1="1710.4" y1="1822" x2="1746.4" y2="1822" stroke="#c6c6c6" stroke-width="6.2"/>
</g>
<g id="core">
<path d="M413.8,929.4 V83.8 H1252.1 V929.4" fill="none" stroke-linecap="square" stroke="#868686" stroke-width="3.1"/>
<line x1="385.5" y1="929.4" x2="1252.1" y2="929.4" stroke="#868686" stroke-width="3.1"/>
<line x1="385.5" y1="569.5" x2="413.8" y2="569.5" stroke="#868686" stroke-width="3.1"/>
<line x1="409.6" y1="929.4" x2="409.6" y2="953" stroke="#868686" stroke-width="3.1"/>
<line x1="738.5" y1="929.4" x2="738.5" y2="953" stroke="#868686" stroke-width="3.1"/>
<line x1="1066.5" y1="929.4" x2="1066.5" y2="953" stroke="#868686" stroke-width="3.1"/>
<path d="M409.1,210.8 L412.7,210.4 L416.2,210 L419.8,209.7 L423.3,209.3 L426.9,208.9 L430.4,208.6 L434,208.2 L437.5,207.9 L441.1,207.6 L444.6,207.3 L448.2,207 L451.7,206.7 L455.3,206.4 L458.9,206.1 L462.4,205.8 L466,205.6 L469.5,205.3 L473.1,205 L476.6,204.8 L480.2,204.6 L483.7,204.3 L487.3,204.1 L490.8,203.9 L494.4,203.7 L497.9,203.5 L501.5,203.3 L505,203.2 L508.6,203 L512,203 L515.4,203.3 L518.9,203.9 L522.3,204.7 L525.7,205.7 L529.1,206.9 L532.5,208.3 L535.9,209.8 L539.4,211.4 L542.8,213.1 L546.2,214.9 L549.6,216.8 L553,218.7 L556.5,220.6 L559.9,222.5 L563.3,224.4 L566.7,226.2 L570.1,227.9 L573.5,229.6 L577,231.2 L580.4,232.6 L583.8,234 L587.2,235.1 L590.6,236.1 L594,237 L597.5,237.6 L600.9,238 L604.3,238.2 L611.4,238.3 L618.4,238.5 L625.5,238.6 L632.6,238.7 L639.7,238.7 L646.8,238.8 L653.8,238.9 L660.9,238.9 L668,238.9 L675,238.9 L682.1,238.9 L689.2,238.9 L696.3,238.9 L703.3,238.9 L710.4,238.9 L717.5,238.9 L724.6,238.8 L731.6,238.8 L738.7,238.8 L745.8,238.7 L752.9,238.7 L760,238.6 L767,238.5 L774.1,238.5 L781.2,238.4 L788.2,238.3 L795.3,238.3 L802.4,238.2 L816.5,238 L830.5,237.6 L844.6,237.1 L858.7,236.4 L872.8,235.6 L886.8,234.6 L900.9,233.5 L915,232.3 L929.1,230.9 L943.1,229.3 L957.2,227.7 L971.3,225.8 L985.4,223.8 L999.4,221.7 L1013.5,219.4 L1027.6,217 L1041.7,214.4 L1055.8,211.7 L1069.8,208.9 L1083.9,205.8 L1098,202.7 L1112,199.4 L1126.1,195.9 L1140.2,192.3 L1154.3,188.6 L1168.3,184.7 L1182.4,180.7 L1196.5,176.5" fill="none" stroke-linejoin="round" stroke="#9a9a9a" stroke-width="3.2"/>
<path d="M409.1,210.8 L410.6,211 L412.2,211.1 L413.7,211.3 L415.2,211.5 L416.8,211.6 L418.3,211.8 L419.8,212 L421.4,212.1 L422.9,212.3 L424.4,212.5 L426,212.6 L427.5,212.8 L429,213 L430.6,213.1 L432.1,213.3 L433.6,213.5 L435.1,213.7 L436.7,213.8 L438.2,214 L439.7,214.2 L441.3,214.4 L442.8,214.5 L444.3,214.7 L445.9,214.9 L447.4,215.1 L448.9,215.2 L450.5,215.4 L452,215.6 L454.2,216.3 L456.3,217.9 L458.5,220.3 L460.7,223.4 L462.8,227 L465,231.2 L467.2,235.8 L469.3,240.7 L471.5,246 L473.7,251.4 L475.8,257 L478,262.8 L480.2,268.5 L482.4,274.3 L484.5,280 L486.7,285.7 L488.9,291.2 L491,296.5 L493.2,301.6 L495.4,306.5 L497.5,311.1 L499.7,315.4 L501.9,319.4 L504,322.9 L506.2,326.1 L508.4,328.9 L510.5,331.2 L512.7,333 L516.4,335.5 L520.1,337.8 L523.8,340 L527.5,342.1 L531.2,344.2 L534.9,346.2 L538.7,348.2 L542.4,350.1 L546.1,352.1 L549.8,354.1 L553.5,356 L557.2,358 L560.9,360 L564.6,362 L568.3,364 L572,366 L575.7,368 L579.4,370.1 L583.1,372.1 L586.8,374.1 L590.5,376.2 L594.3,378.3 L598,380.4 L601.7,382.5 L605.4,384.6 L609.1,386.7 L612.8,388.8 L616.5,391 L624,395.4 L631.4,399.8 L638.9,404.3 L646.3,408.9 L653.8,413.6 L661.2,418.3 L668.7,423.1 L676.1,428 L683.5,432.9 L691,437.9 L698.5,442.9 L705.9,448 L713.4,453.2 L720.8,458.4 L728.2,463.6 L735.7,468.8 L743.2,474.1 L750.6,479.4 L758,484.6 L765.5,489.9 L773,495.1 L780.4,500.2 L787.9,505.3 L795.3,510.1 L802.8,514.7 L810.2,519 L817.7,522.7 L825.1,525.7 L835.9,529.2 L846.6,532.7 L857.4,536.1 L868.1,539.4 L878.9,542.7 L889.6,545.9 L900.4,549 L911.2,552.1 L921.9,555.1 L932.7,558 L943.4,560.9 L954.2,563.8 L964.9,566.6 L975.7,569.3 L986.5,572 L997.2,574.6 L1008,577.2 L1018.7,579.8 L1029.5,582.3 L1040.2,584.7 L1051,587.2 L1061.8,589.5 L1072.5,591.9 L1083.3,594.2 L1094,596.4 L1104.8,598.7 L1115.5,600.8 L1126.3,603" fill="none" stroke-linejoin="round" stroke="#9a9a9a" stroke-width="3.2"/>
<line x1="507.8" y1="183.5" x2="507.8" y2="222" stroke="#808080" stroke-width="3.1"/>
<line x1="489.8" y1="183.5" x2="525.8" y2="183.5" stroke="#808080" stroke-width="3.1"/>
<line x1="489.8" y1="222" x2="525.8" y2="222" stroke="#808080" stroke-width="3.1"/>
<line x1="605.8" y1="221" x2="605.8" y2="258" stroke="#808080" stroke-width="3.1"/>
<line x1="587.8" y1="221" x2="623.8" y2="221" stroke="#808080" stroke-width="3.1"/>
<line x1="587.8" y1="258" x2="623.8" y2="258" stroke="#808080" stroke-width="3.1"/>
<line x1="802.8" y1="188.7" x2="802.8" y2="288.4" stroke="#808080" stroke-width="3.1"/>
<line x1="784.8" y1="188.7" x2="820.8" y2="188.7" stroke="#808080" stroke-width="3.1"/>
<line x1="784.8" y1="288.4" x2="820.8" y2="288.4" stroke="#808080" stroke-width="3.1"/>
<line x1="1197" y1="105.9" x2="1197" y2="250" stroke="#808080" stroke-width="3.1"/>
<line x1="1179" y1="105.9" x2="1215" y2="105.9" stroke="#808080" stroke-width="3.1"/>
<line x1="1179" y1="250" x2="1215" y2="250" stroke="#808080" stroke-width="3.1"/>
<circle cx="508.6" cy="203" r="31.999999999999996" fill="none" stroke="#868686" stroke-width="3.0"/>
<circle cx="604.3" cy="238.2" r="31.999999999999996" fill="none" stroke="#868686" stroke-width="3.0"/>
<circle cx="802.4" cy="238.2" r="31.999999999999996" fill="none" stroke="#868686" stroke-width="3.0"/>
<circle cx="1196.5" cy="176.5" r="31.999999999999996" fill="none" stroke="#868686" stroke-width="3.0"/>
<line x1="513.8" y1="295" x2="513.8" y2="373" stroke="#808080" stroke-width="3.1"/>
<line x1="495.8" y1="295" x2="531.8" y2="295" stroke="#808080" stroke-width="3.1"/>
<line x1="495.8" y1="373" x2="531.8" y2="373" stroke="#808080" stroke-width="3.1"/>
<line x1="617.6" y1="312.5" x2="617.6" y2="472" stroke="#808080" stroke-width="3.1"/>
<line x1="599.6" y1="312.5" x2="635.6" y2="312.5" stroke="#808080" stroke-width="3.1"/>
<line x1="599.6" y1="472" x2="635.6" y2="472" stroke="#808080" stroke-width="3.1"/>
<line x1="825.1" y1="439.3" x2="825.1" y2="612.8" stroke="#808080" stroke-width="3.1"/>
<line x1="807.1" y1="439.3" x2="843.1" y2="439.3" stroke="#808080" stroke-width="3.1"/>
<line x1="807.1" y1="612.8" x2="843.1" y2="612.8" stroke="#808080" stroke-width="3.1"/>
<line x1="1127" y1="497.4" x2="1127" y2="709.3" stroke="#808080" stroke-width="3.1"/>
<line x1="1109" y1="497.4" x2="1145" y2="497.4" stroke="#808080" stroke-width="3.1"/>
<line x1="1109" y1="709.3" x2="1145" y2="709.3" stroke="#808080" stroke-width="3.1"/>
<path d="M1357.5,921 V78 H2200.5 V921" fill="none" stroke-linecap="square" stroke="#868686" stroke-width="3.1"/>
<line x1="1330" y1="921" x2="2200.5" y2="921" stroke="#868686" stroke-width="3.1"/>
<line x1="1330" y1="553" x2="1357.5" y2="553" stroke="#868686" stroke-width="3.1"/>
<line x1="1357.5" y1="921" x2="1357.5" y2="946.5" stroke="#868686" stroke-width="3.1"/>
<line x1="1739" y1="921" x2="1739" y2="946.5" stroke="#868686" stroke-width="3.1"/>
<line x1="2123" y1="921" x2="2123" y2="946.5" stroke="#868686" stroke-width="3.1"/>
<path d="M1356.4,185.6 L1360.9,185.8 L1365.5,186 L1370,186.2 L1374.5,186.4 L1379,186.6 L1383.6,186.9 L1388.1,187.1 L1392.6,187.4 L1397.2,187.6 L1401.7,187.9 L1406.2,188.2 L1410.7,188.4 L1415.3,188.7 L1419.8,189 L1424.3,189.4 L1428.9,189.7 L1433.4,190 L1437.9,190.4 L1442.4,190.8 L1447,191.1 L1451.5,191.6 L1456,192 L1460.6,192.4 L1465.1,192.9 L1469.6,193.4 L1474.1,193.9 L1478.7,194.4 L1483.2,195 L1487.8,195.7 L1492.4,196.4 L1497,197.3 L1501.6,198.2 L1506.2,199.1 L1510.8,200 L1515.5,200.9 L1520.1,201.9 L1524.7,202.9 L1529.3,203.8 L1533.9,204.8 L1538.5,205.8 L1543.1,206.8 L1547.7,207.8 L1552.3,208.8 L1556.9,209.8 L1561.5,210.7 L1566.1,211.7 L1570.7,212.7 L1575.3,213.8 L1580,214.8 L1584.6,215.8 L1589.2,216.8 L1593.8,217.8 L1598.4,218.8 L1603,219.8 L1607.6,220.8 L1612.2,221.8 L1621.3,223.8 L1630.4,225.8 L1639.5,227.8 L1648.6,229.9 L1657.7,231.9 L1666.8,234 L1675.9,236.1 L1685,238.2 L1694.1,240.3 L1703.2,242.5 L1712.3,244.6 L1721.4,246.8 L1730.5,249 L1739.6,251.2 L1748.7,253.4 L1757.8,255.6 L1766.9,257.9 L1776,260.1 L1785.1,262.4 L1794.2,264.7 L1803.3,267.1 L1812.4,269.4 L1821.5,271.8 L1830.6,274.2 L1839.7,276.6 L1848.8,279.1 L1857.9,281.5 L1867,284 L1876.1,286.5 L1885.3,289.1 L1894.4,291.6 L1903.6,294.2 L1912.7,296.8 L1921.9,299.5 L1931,302.2 L1940.1,304.9 L1949.3,307.6 L1958.4,310.3 L1967.6,313.1 L1976.7,315.9 L1985.9,318.7 L1995,321.5 L2004.1,324.4 L2013.3,327.3 L2022.4,330.2 L2031.6,333.2 L2040.7,336.1 L2049.9,339.1 L2059,342.2 L2068.1,345.2 L2077.3,348.3 L2086.4,351.4 L2095.6,354.5 L2104.7,357.6 L2113.9,360.8 L2123,364" fill="none" stroke-linejoin="round" stroke="#9a9a9a" stroke-width="3.2"/>
<path d="M1356.4,185.6 L1357.1,186.6 L1357.9,187.6 L1358.6,188.5 L1359.3,189.5 L1360.1,190.4 L1360.8,191.3 L1361.6,192.1 L1362.3,193 L1363,193.8 L1363.8,194.7 L1364.5,195.4 L1365.2,196.2 L1366,197 L1366.7,197.7 L1367.4,198.4 L1368.2,199.1 L1368.9,199.8 L1369.6,200.5 L1370.4,201.1 L1371.1,201.7 L1371.8,202.3 L1372.6,202.9 L1373.3,203.5 L1374.1,204 L1374.8,204.5 L1375.5,205.1 L1376.3,205.5 L1377,206 L1377.8,206.5 L1378.7,207 L1379.5,207.4 L1380.4,207.8 L1381.2,208.2 L1382.1,208.6 L1383,209 L1383.8,209.4 L1384.7,209.8 L1385.5,210.2 L1386.3,210.6 L1387.2,211 L1388,211.4 L1388.9,211.8 L1389.8,212.2 L1390.6,212.6 L1391.5,213 L1392.3,213.4 L1393.1,213.8 L1394,214.2 L1394.8,214.6 L1395.7,215 L1396.5,215.5 L1397.4,215.9 L1398.2,216.3 L1399.1,216.7 L1400,217.2 L1400.8,217.6 L1403.1,218.8 L1405.4,220.1 L1407.7,221.4 L1410,222.8 L1412.3,224.2 L1414.6,225.6 L1416.9,227 L1419.2,228.5 L1421.5,230 L1423.8,231.4 L1426.1,232.9 L1428.4,234.4 L1430.7,235.9 L1433,237.4 L1435.4,238.9 L1437.7,240.4 L1440,241.8 L1442.3,243.3 L1444.6,244.8 L1446.9,246.2 L1449.2,247.6 L1451.5,249 L1453.8,250.4 L1456.1,251.8 L1458.4,253.2 L1460.7,254.6 L1463,255.9 L1465.3,257.2 L1469.2,259.4 L1473.2,261.6 L1477.1,263.8 L1481,266 L1484.9,268.2 L1488.9,270.3 L1492.8,272.5 L1496.7,274.6 L1500.7,276.7 L1504.6,278.8 L1508.5,280.9 L1512.4,283 L1516.4,285 L1520.3,287.1 L1524.2,289.1 L1528.2,291.1 L1532.1,293 L1536,295 L1539.9,296.9 L1543.9,298.8 L1547.8,300.7 L1551.7,302.5 L1555.7,304.3 L1559.6,306.1 L1563.5,307.9 L1567.4,309.6 L1571.4,311.3 L1575.3,313 L1583,316.2 L1590.8,319.2 L1598.5,322.1 L1606.2,324.8 L1614,327.5 L1621.7,330 L1629.5,332.5 L1637.2,334.8 L1644.9,337.1 L1652.7,339.4 L1660.4,341.6 L1668.1,343.7 L1675.9,345.9 L1683.6,348 L1691.3,350.1 L1699.1,352.3 L1706.8,354.4 L1714.5,356.6 L1722.3,358.9 L1730,361.1 L1737.8,363.5 L1745.5,366 L1753.2,368.5 L1761,371.1 L1768.7,373.9 L1776.4,376.8 L1784.2,379.8 L1791.9,383 L1799.7,386.5 L1807.5,390.3 L1815.3,394.4 L1823.1,398.8 L1830.9,403.6 L1838.7,408.8 L1846.6,414.2 L1854.4,420 L1862.2,426.2 L1870,432.6 L1877.8,439.4 L1885.6,446.5 L1893.4,454 L1901.2,461.8 L1909,469.9 L1916.8,478.4 L1924.6,487.2 L1932.4,496.3 L1940.2,505.8 L1948,515.6 L1955.8,525.7 L1963.7,536.2 L1971.5,547 L1979.3,558.1 L1987.1,569.6 L1994.9,581.4 L2002.7,593.5 L2010.5,606" fill="none" stroke-linejoin="round" stroke="#9a9a9a" stroke-width="3.2"/>
<line x1="1485.2" y1="138.2" x2="1485.2" y2="254" stroke="#808080" stroke-width="3.1"/>
<line x1="1467.2" y1="138.2" x2="1503.2" y2="138.2" stroke="#808080" stroke-width="3.1"/>
<line x1="1467.2" y1="254" x2="1503.2" y2="254" stroke="#808080" stroke-width="3.1"/>
<line x1="1613.7" y1="163.5" x2="1613.7" y2="282" stroke="#808080" stroke-width="3.1"/>
<line x1="1595.7" y1="163.5" x2="1631.7" y2="163.5" stroke="#808080" stroke-width="3.1"/>
<line x1="1595.7" y1="282" x2="1631.7" y2="282" stroke="#808080" stroke-width="3.1"/>
<line x1="1867" y1="238.2" x2="1867" y2="338.3" stroke="#808080" stroke-width="3.1"/>
<line x1="1849" y1="238.2" x2="1885" y2="238.2" stroke="#808080" stroke-width="3.1"/>
<line x1="1849" y1="338.3" x2="1885" y2="338.3" stroke="#808080" stroke-width="3.1"/>
<line x1="2123" y1="351" x2="2123" y2="378" stroke="#808080" stroke-width="3.1"/>
<line x1="2105" y1="351" x2="2141" y2="351" stroke="#808080" stroke-width="3.1"/>
<line x1="2105" y1="378" x2="2141" y2="378" stroke="#808080" stroke-width="3.1"/>
<circle cx="1483.2" cy="195" r="31.999999999999996" fill="none" stroke="#868686" stroke-width="3.0"/>
<circle cx="1612.2" cy="221.8" r="31.999999999999996" fill="none" stroke="#868686" stroke-width="3.0"/>
<circle cx="1867" cy="284" r="31.999999999999996" fill="none" stroke="#868686" stroke-width="3.0"/>
<circle cx="2123" cy="364" r="31.999999999999996" fill="none" stroke="#868686" stroke-width="3.0"/>
<line x1="1400.8" y1="182.7" x2="1400.8" y2="255.4" stroke="#808080" stroke-width="3.1"/>
<line x1="1382.8" y1="182.7" x2="1418.8" y2="182.7" stroke="#808080" stroke-width="3.1"/>
<line x1="1382.8" y1="255.4" x2="1418.8" y2="255.4" stroke="#808080" stroke-width="3.1"/>
<line x1="1576.6" y1="228.8" x2="1576.6" y2="402.2" stroke="#808080" stroke-width="3.1"/>
<line x1="1558.6" y1="228.8" x2="1594.6" y2="228.8" stroke="#808080" stroke-width="3.1"/>
<line x1="1558.6" y1="402.2" x2="1594.6" y2="402.2" stroke="#808080" stroke-width="3.1"/>
<line x1="2010.5" y1="568.2" x2="2010.5" y2="644.4" stroke="#808080" stroke-width="3.1"/>
<line x1="1992.5" y1="568.2" x2="2028.5" y2="568.2" stroke="#808080" stroke-width="3.1"/>
<line x1="1992.5" y1="644.4" x2="2028.5" y2="644.4" stroke="#808080" stroke-width="3.1"/>
<path d="M414.2,2159.2 V1317.6 H1256.1 V2159.2" fill="none" stroke-linecap="square" stroke="#868686" stroke-width="3.1"/>
<line x1="385.5" y1="2159.2" x2="1256.1" y2="2159.2" stroke="#868686" stroke-width="3.1"/>
<line x1="385.5" y1="1802.2" x2="414.2" y2="1802.2" stroke="#868686" stroke-width="3.1"/>
<line x1="413.6" y1="2159.2" x2="413.6" y2="2187" stroke="#868686" stroke-width="3.1"/>
<line x1="764.7" y1="2159.2" x2="764.7" y2="2187" stroke="#868686" stroke-width="3.1"/>
<line x1="1115.3" y1="2159.2" x2="1115.3" y2="2187" stroke="#868686" stroke-width="3.1"/>
<path d="M413.2,1445.4 L413.8,1445.8 L414.4,1446.2 L415,1446.6 L415.7,1447 L416.3,1447.4 L416.9,1447.8 L417.5,1448.3 L418.1,1448.7 L418.7,1449.1 L419.3,1449.5 L420,1450 L420.6,1450.4 L421.2,1450.9 L421.8,1451.3 L422.4,1451.8 L423,1452.2 L423.6,1452.7 L424.3,1453.1 L424.9,1453.6 L425.5,1454.1 L426.1,1454.5 L426.7,1455 L427.3,1455.5 L427.9,1456 L428.6,1456.5 L429.2,1457 L429.8,1457.5 L430.4,1458 L431,1458.5 L431.5,1459 L432.1,1459.5 L432.7,1460 L433.3,1460.6 L433.8,1461.1 L434.4,1461.7 L435,1462.3 L435.5,1462.9 L436.1,1463.4 L436.7,1464 L437.3,1464.6 L437.8,1465.2 L438.4,1465.8 L439,1466.3 L439.5,1466.9 L440.1,1467.5 L440.7,1468.1 L441.3,1468.6 L441.8,1469.2 L442.4,1469.7 L443,1470.3 L443.5,1470.8 L444.1,1471.4 L444.7,1471.9 L445.3,1472.5 L445.8,1473 L446.4,1473.5 L447.5,1474.5 L448.6,1475.4 L449.7,1476.4 L450.8,1477.3 L451.9,1478.2 L453,1479.1 L454,1479.9 L455.1,1480.8 L456.2,1481.6 L457.3,1482.5 L458.4,1483.3 L459.5,1484.1 L460.6,1484.9 L461.7,1485.8 L462.8,1486.6 L463.9,1487.4 L465,1488.2 L466.1,1489 L467.2,1489.8 L468.3,1490.6 L469.3,1491.5 L470.4,1492.3 L471.5,1493.2 L472.6,1494.1 L473.7,1495 L474.8,1496 L475.9,1497 L477,1498 L478.1,1499.1 L479.2,1500.4 L480.4,1501.7 L481.5,1503.1 L482.6,1504.5 L483.8,1506.1 L484.9,1507.7 L486,1509.3 L487.1,1511 L488.2,1512.8 L489.4,1514.6 L490.5,1516.5 L491.6,1518.3 L492.8,1520.2 L493.9,1522.2 L495,1524.1 L496.1,1526 L497.2,1527.9 L498.4,1529.8 L499.5,1531.6 L500.6,1533.4 L501.8,1535.1 L502.9,1536.7 L504,1538.2 L505.1,1539.5 L506.2,1540.7 L507.4,1541.7 L508.5,1542.5 L514.1,1544.2 L519.7,1545 L525.3,1545.6 L530.9,1546 L536.5,1546.5 L542.1,1546.9 L547.7,1547.3 L553.3,1547.8 L558.9,1548.2 L564.5,1548.6 L570.1,1549.1 L575.7,1549.5 L581.3,1550 L586.9,1550.5 L592.5,1551 L598.1,1551.5 L603.7,1552 L609.3,1552.5 L614.9,1553.1 L620.5,1553.6 L626.1,1554.2 L631.7,1554.8 L637.3,1555.4 L642.9,1556 L648.5,1556.6 L654.1,1557.2 L659.7,1557.8 L665.3,1558.5 L674.3,1559.6 L683.2,1560.6 L692.2,1561.7 L701.2,1562.8 L710.2,1563.8 L719.1,1564.9 L728.1,1566 L737.1,1567.1 L746.1,1568.2 L755,1569.3 L764,1570.5 L773,1571.6 L782,1572.8 L791,1573.9 L799.9,1575.1 L808.9,1576.3 L817.9,1577.6 L826.9,1578.8 L835.8,1580.1 L844.8,1581.4 L853.8,1582.8 L862.8,1584.2 L871.7,1585.7 L880.7,1587.2 L889.7,1588.9 L898.7,1590.6 L907.6,1592.5 L916.6,1594.5 L925.6,1596.7 L934.6,1599 L943.6,1601.4 L952.6,1603.9 L961.6,1606.4 L970.6,1609.1 L979.6,1611.8 L988.7,1614.7 L997.7,1617.6 L1006.7,1620.6 L1015.7,1623.7 L1024.7,1626.9 L1033.7,1630.2 L1042.7,1633.5 L1051.7,1637 L1060.7,1640.6 L1069.7,1644.2 L1078.7,1647.9 L1087.7,1651.8 L1096.7,1655.7 L1105.8,1659.7 L1114.8,1663.8 L1123.8,1667.9 L1132.8,1672.2 L1141.8,1676.6 L1150.8,1681 L1159.8,1685.6 L1168.8,1690.2" fill="none" stroke-linejoin="round" stroke="#9a9a9a" stroke-width="3.2"/>
<path d="M413.2,1445.4 L417.7,1450.1 L422.2,1454.8 L426.7,1459.4 L431.2,1463.9 L435.7,1468.3 L440.2,1472.7 L444.6,1477 L449.1,1481.2 L453.6,1485.3 L458.1,1489.4 L462.6,1493.4 L467.1,1497.3 L471.6,1501.1 L476.1,1504.8 L480.6,1508.5 L485.1,1512.1 L489.6,1515.6 L494.1,1519.1 L498.6,1522.4 L503.1,1525.7 L507.6,1528.9 L512,1532.1 L516.5,1535.1 L521,1538.1 L525.5,1541 L530,1543.9 L534.5,1546.6 L539,1549.3 L543.5,1551.9 L548,1554.3 L552.5,1556.7 L557,1558.9 L561.6,1561.1 L566.1,1563.2 L570.6,1565.3 L575.1,1567.3 L579.6,1569.2 L584.1,1571.2 L588.6,1573.1 L593.1,1575 L597.6,1576.9 L602.1,1578.8 L606.7,1580.7 L611.2,1582.6 L615.7,1584.6 L620.2,1586.5 L624.7,1588.5 L629.2,1590.6 L633.7,1592.6 L638.2,1594.7 L642.7,1596.9 L647.3,1599.1 L651.8,1601.3 L656.3,1603.6 L660.8,1605.9 L665.3,1608.3 L674.3,1613.4 L683.2,1619 L692.2,1625 L701.2,1631.4 L710.2,1638.2 L719.1,1645.3 L728.1,1652.7 L737.1,1660.3 L746.1,1668.1 L755,1676 L764,1684 L773,1692.2 L782,1700.3 L791,1708.5 L799.9,1716.7 L808.9,1724.8 L817.9,1732.8 L826.9,1740.7 L835.8,1748.5 L844.8,1756.2 L853.8,1763.6 L862.8,1770.9 L871.7,1777.9 L880.7,1784.6 L889.7,1791.1 L898.7,1797.3 L907.6,1803.2 L916.6,1808.7 L925.6,1814 L934.7,1819.3 L943.7,1824.5 L952.8,1829.6 L961.8,1834.6 L970.9,1839.5 L979.9,1844.4 L989,1849.2 L998,1853.9 L1007.1,1858.5 L1016.1,1863.1 L1025.2,1867.6 L1034.2,1872 L1043.2,1876.4 L1052.3,1880.7 L1061.3,1884.9 L1070.4,1889.1 L1079.4,1893.2 L1088.5,1897.3 L1097.5,1901.3 L1106.6,1905.3 L1115.6,1909.1 L1124.7,1913 L1133.7,1916.8 L1142.8,1920.5 L1151.8,1924.2 L1160.9,1927.8 L1169.9,1931.4" fill="none" stroke-linejoin="round" stroke="#9a9a9a" stroke-width="3.2"/>
<line x1="430.4" y1="1372.4" x2="430.4" y2="1543.7" stroke="#808080" stroke-width="3.1"/>
<line x1="412.4" y1="1372.4" x2="448.4" y2="1372.4" stroke="#808080" stroke-width="3.1"/>
<line x1="412.4" y1="1543.7" x2="448.4" y2="1543.7" stroke="#808080" stroke-width="3.1"/>
<line x1="446.4" y1="1407.4" x2="446.4" y2="1543.7" stroke="#808080" stroke-width="3.1"/>
<line x1="428.4" y1="1407.4" x2="464.4" y2="1407.4" stroke="#808080" stroke-width="3.1"/>
<line x1="428.4" y1="1543.7" x2="464.4" y2="1543.7" stroke="#808080" stroke-width="3.1"/>
<line x1="477" y1="1427.1" x2="477" y2="1572.3" stroke="#808080" stroke-width="3.1"/>
<line x1="459" y1="1427.1" x2="495" y2="1427.1" stroke="#808080" stroke-width="3.1"/>
<line x1="459" y1="1572.3" x2="495" y2="1572.3" stroke="#808080" stroke-width="3.1"/>
<line x1="666" y1="1554.1" x2="666" y2="1567.8" stroke="#808080" stroke-width="3.1"/>
<line x1="648" y1="1554.1" x2="684" y2="1554.1" stroke="#808080" stroke-width="3.1"/>
<line x1="648" y1="1567.8" x2="684" y2="1567.8" stroke="#808080" stroke-width="3.1"/>
<line x1="917" y1="1562.5" x2="917" y2="1626.8" stroke="#808080" stroke-width="3.1"/>
<line x1="899" y1="1562.5" x2="935" y2="1562.5" stroke="#808080" stroke-width="3.1"/>
<line x1="899" y1="1626.8" x2="935" y2="1626.8" stroke="#808080" stroke-width="3.1"/>
<line x1="1170.3" y1="1682.5" x2="1170.3" y2="1697" stroke="#808080" stroke-width="3.1"/>
<line x1="1152.3" y1="1682.5" x2="1188.3" y2="1682.5" stroke="#808080" stroke-width="3.1"/>
<line x1="1152.3" y1="1697" x2="1188.3" y2="1697" stroke="#808080" stroke-width="3.1"/>
<circle cx="430.4" cy="1458" r="31.999999999999996" fill="none" stroke="#868686" stroke-width="3.0"/>
<circle cx="446.4" cy="1473.5" r="31.999999999999996" fill="none" stroke="#868686" stroke-width="3.0"/>
<circle cx="477" cy="1498" r="31.999999999999996" fill="none" stroke="#868686" stroke-width="3.0"/>
<circle cx="508.5" cy="1542.5" r="31.999999999999996" fill="none" stroke="#868686" stroke-width="3.0"/>
<circle cx="665.3" cy="1558.5" r="31.999999999999996" fill="none" stroke="#868686" stroke-width="3.0"/>
<circle cx="916.6" cy="1594.5" r="31.999999999999996" fill="none" stroke="#868686" stroke-width="3.0"/>
<circle cx="1168.8" cy="1690.2" r="31.999999999999996" fill="none" stroke="#868686" stroke-width="3.0"/>
<line x1="666" y1="1535.6" x2="666" y2="1685.4" stroke="#808080" stroke-width="3.1"/>
<line x1="648" y1="1535.6" x2="684" y2="1535.6" stroke="#808080" stroke-width="3.1"/>
<line x1="648" y1="1685.4" x2="684" y2="1685.4" stroke="#808080" stroke-width="3.1"/>
<path d="M1357.9,2159.8 V1317.3 H2200.7 V2159.8" fill="none" stroke-linecap="square" stroke="#868686" stroke-width="3.1"/>
<line x1="1330" y1="2159.8" x2="2200.7" y2="2159.8" stroke="#868686" stroke-width="3.1"/>
<line x1="1330" y1="1802.2" x2="1357.9" y2="1802.2" stroke="#868686" stroke-width="3.1"/>
<line x1="1357.7" y1="2159.8" x2="1357.7" y2="2186.6" stroke="#868686" stroke-width="3.1"/>
<line x1="1694.2" y1="2159.8" x2="1694.2" y2="2186.6" stroke="#868686" stroke-width="3.1"/>
<line x1="2030.7" y1="2159.8" x2="2030.7" y2="2186.6" stroke="#868686" stroke-width="3.1"/>
<path d="M1356.7,1445.6 L1357.5,1445.6 L1358.3,1445.6 L1359.1,1445.6 L1360,1445.6 L1360.8,1445.6 L1361.6,1445.6 L1362.4,1445.6 L1363.2,1445.6 L1364,1445.6 L1364.8,1445.6 L1365.7,1445.6 L1366.5,1445.6 L1367.3,1445.7 L1368.1,1445.7 L1368.9,1445.7 L1369.7,1445.7 L1370.5,1445.7 L1371.4,1445.7 L1372.2,1445.7 L1373,1445.7 L1373.8,1445.7 L1374.6,1445.8 L1375.4,1445.8 L1376.2,1445.8 L1377.1,1445.8 L1377.9,1445.9 L1378.7,1445.9 L1379.5,1446 L1380.3,1446.5 L1381,1447.9 L1381.8,1450 L1382.5,1452.8 L1383.3,1456.1 L1384.1,1459.9 L1384.8,1464 L1385.6,1468.5 L1386.3,1473.3 L1387.1,1478.2 L1387.9,1483.3 L1388.6,1488.5 L1389.4,1493.8 L1390.2,1499 L1390.9,1504.2 L1391.7,1509.3 L1392.4,1514.3 L1393.2,1519.1 L1394,1523.7 L1394.7,1528.1 L1395.5,1532.2 L1396.2,1536.1 L1397,1539.6 L1397.8,1542.9 L1398.5,1545.7 L1399.3,1548.2 L1400,1550.3 L1400.8,1552 L1402.4,1555.1 L1404.1,1558.2 L1405.7,1561.3 L1407.4,1564.2 L1409,1567.2 L1410.7,1570.1 L1412.3,1572.9 L1413.9,1575.7 L1415.6,1578.4 L1417.2,1581 L1418.9,1583.6 L1420.5,1586.1 L1422.2,1588.6 L1423.8,1590.9 L1425.4,1593.2 L1427.1,1595.4 L1428.7,1597.5 L1430.4,1599.6 L1432,1601.5 L1433.7,1603.3 L1435.3,1605.1 L1436.9,1606.7 L1438.6,1608.2 L1440.2,1609.6 L1441.9,1610.8 L1443.5,1611.9 L1445.2,1612.9 L1446.8,1613.7 L1448.3,1614.3 L1449.9,1614.9 L1451.4,1615.4 L1453,1615.8 L1454.5,1616.2 L1456.1,1616.6 L1457.6,1617 L1459.1,1617.3 L1460.7,1617.7 L1462.2,1618 L1463.8,1618.4 L1465.3,1618.7 L1466.9,1619.1 L1468.4,1619.5 L1469.9,1619.8 L1471.5,1620.2 L1473,1620.6 L1474.6,1620.9 L1476.1,1621.3 L1477.7,1621.7 L1479.2,1622.1 L1480.7,1622.5 L1482.3,1623 L1483.8,1623.4 L1485.4,1623.8 L1486.9,1624.3 L1488.5,1624.7 L1490,1625.2 L1498.5,1629.8 L1507,1635.9 L1515.5,1642.4 L1524.1,1649 L1532.6,1655.8 L1541.1,1662.5 L1549.6,1669.4 L1558.1,1676.2 L1566.6,1683.1 L1575.1,1689.9 L1583.7,1696.8 L1592.2,1703.7 L1600.7,1710.5 L1609.2,1717.4 L1617.7,1724.3 L1626.2,1731.2 L1634.7,1738.1 L1643.3,1745 L1651.8,1751.9 L1660.3,1758.8 L1668.8,1765.7 L1677.3,1772.6 L1685.8,1779.5 L1694.3,1786.4 L1702.9,1793.3 L1711.4,1800.2 L1719.9,1807.1 L1728.4,1814 L1741.7,1824.8 L1755.1,1835.7 L1768.4,1846.6 L1781.7,1857.5 L1795.1,1868.4 L1808.4,1879.4 L1821.7,1890.4 L1835.1,1901.5 L1848.4,1912.5 L1861.7,1923.6 L1875.1,1934.8 L1888.4,1945.9 L1901.7,1957.1 L1915,1968.4 L1928.4,1979.6 L1941.7,1990.9 L1955,2002.2 L1968.4,2013.6 L1981.7,2024.9 L1995,2036.3 L2008.4,2047.8 L2021.7,2059.2 L2035,2070.7 L2048.4,2082.3 L2061.7,2093.8 L2075,2105.4 L2088.4,2117 L2101.7,2128.7" fill="none" stroke-linejoin="round" stroke="#9a9a9a" stroke-width="3.2"/>
<path d="M1356.7,1445.6 L1357.6,1445.8 L1358.4,1446.1 L1359.3,1446.3 L1360.1,1446.6 L1361,1446.9 L1361.8,1447.1 L1362.7,1447.4 L1363.6,1447.7 L1364.4,1448 L1365.3,1448.3 L1366.1,1448.6 L1367,1448.9 L1367.8,1449.3 L1368.7,1449.6 L1369.6,1449.9 L1370.4,1450.3 L1371.3,1450.7 L1372.1,1451 L1373,1451.4 L1373.8,1451.8 L1374.7,1452.3 L1375.6,1452.7 L1376.4,1453.1 L1377.3,1453.6 L1378.1,1454.1 L1379,1454.6 L1379.8,1455.1 L1380.7,1455.6 L1381.5,1456.2 L1382.3,1456.9 L1383,1457.8 L1383.8,1458.8 L1384.6,1459.8 L1385.4,1460.9 L1386.2,1462 L1387,1463.1 L1387.7,1464.3 L1388.5,1465.5 L1389.3,1466.7 L1390.1,1467.9 L1390.9,1469.2 L1391.7,1470.4 L1392.4,1471.7 L1393.2,1472.9 L1394,1474.2 L1394.8,1475.5 L1395.6,1476.8 L1396.3,1478.1 L1397.1,1479.4 L1397.9,1480.7 L1398.7,1482 L1399.5,1483.3 L1400.3,1484.6 L1401,1486 L1401.8,1487.3 L1402.6,1488.6 L1404.2,1491.6 L1405.8,1495.3 L1407.4,1499.5 L1409,1504.2 L1410.6,1509.4 L1412.2,1515 L1413.8,1521 L1415.4,1527.4 L1417,1534 L1418.6,1540.8 L1420.2,1547.9 L1421.8,1555.1 L1423.4,1562.3 L1425,1569.7 L1426.6,1577 L1428.2,1584.2 L1429.8,1591.4 L1431.4,1598.5 L1433,1605.3 L1434.6,1611.9 L1436.2,1618.3 L1437.8,1624.3 L1439.4,1629.9 L1441,1635.1 L1442.6,1639.8 L1444.2,1644 L1445.8,1647.7 L1447.4,1650.7 L1450.8,1656.4 L1454.2,1662 L1457.6,1667.5 L1461,1672.9 L1464.4,1678.2 L1467.8,1683.4 L1471.2,1688.5 L1474.6,1693.5 L1478,1698.3 L1481.4,1703 L1484.8,1707.6 L1488.2,1712.1 L1491.6,1716.4 L1495.1,1720.6 L1498.5,1724.6 L1501.9,1728.5 L1505.3,1732.2 L1508.7,1735.8 L1512.1,1739.2 L1515.5,1742.4 L1518.9,1745.5 L1522.3,1748.3 L1525.7,1751 L1529.1,1753.4 L1532.5,1755.6 L1535.9,1757.7 L1539.3,1759.5 L1542.7,1761 L1549.3,1763.3 L1556,1765 L1562.6,1766.1 L1569.2,1766.8 L1575.9,1767.4 L1582.5,1767.7 L1589.1,1767.9 L1595.8,1768 L1602.4,1768 L1609,1768 L1615.7,1768.1 L1622.3,1768.1 L1628.9,1768.1 L1635.6,1768.2 L1642.2,1768.2 L1648.8,1768.4 L1655.4,1768.6 L1662.1,1768.8 L1668.7,1769.1 L1675.3,1769.5 L1682,1770 L1688.6,1770.5 L1695.2,1771.1 L1701.9,1771.8 L1708.5,1772.5 L1715.1,1773.4 L1721.8,1774.3 L1728.4,1775.3 L1741.7,1777.5 L1755.1,1779.9 L1768.4,1782.6 L1781.7,1785.4 L1795.1,1788.4 L1808.4,1791.7 L1821.7,1795.1 L1835.1,1798.8 L1848.4,1802.6 L1861.7,1806.7 L1875.1,1810.9 L1888.4,1815.4 L1901.7,1820.1 L1915,1825 L1928.4,1830.1 L1941.7,1835.4 L1955,1840.9 L1968.4,1846.6 L1981.7,1852.5 L1995,1858.6 L2008.4,1865 L2021.7,1871.5 L2035,1878.2 L2048.4,1885.2 L2061.7,1892.3 L2075,1899.7 L2088.4,1907.2 L2101.7,1915" fill="none" stroke-linejoin="round" stroke="#9a9a9a" stroke-width="3.2"/>
<line x1="1379.5" y1="1335.5" x2="1379.5" y2="1574.7" stroke="#808080" stroke-width="3.1"/>
<line x1="1361.5" y1="1335.5" x2="1397.5" y2="1335.5" stroke="#808080" stroke-width="3.1"/>
<line x1="1361.5" y1="1574.7" x2="1397.5" y2="1574.7" stroke="#808080" stroke-width="3.1"/>
<line x1="1402.5" y1="1520.7" x2="1402.5" y2="1583.3" stroke="#808080" stroke-width="3.1"/>
<line x1="1384.5" y1="1520.7" x2="1420.5" y2="1520.7" stroke="#808080" stroke-width="3.1"/>
<line x1="1384.5" y1="1583.3" x2="1420.5" y2="1583.3" stroke="#808080" stroke-width="3.1"/>
<line x1="1446.8" y1="1533.4" x2="1446.8" y2="1698.7" stroke="#808080" stroke-width="3.1"/>
<line x1="1428.8" y1="1533.4" x2="1464.8" y2="1533.4" stroke="#808080" stroke-width="3.1"/>
<line x1="1428.8" y1="1698.7" x2="1464.8" y2="1698.7" stroke="#808080" stroke-width="3.1"/>
<line x1="1490.5" y1="1619.8" x2="1490.5" y2="1629.4" stroke="#808080" stroke-width="3.1"/>
<line x1="1472.5" y1="1619.8" x2="1508.5" y2="1619.8" stroke="#808080" stroke-width="3.1"/>
<line x1="1472.5" y1="1629.4" x2="1508.5" y2="1629.4" stroke="#808080" stroke-width="3.1"/>
<line x1="1728.4" y1="1728" x2="1728.4" y2="1900" stroke="#808080" stroke-width="3.1"/>
<line x1="1710.4" y1="1728" x2="1746.4" y2="1728" stroke="#808080" stroke-width="3.1"/>
<line x1="1710.4" y1="1900" x2="1746.4" y2="1900" stroke="#808080" stroke-width="3.1"/>
<line x1="2101.7" y1="2117" x2="2101.7" y2="2145" stroke="#808080" stroke-width="3.1"/>
<line x1="2083.7" y1="2117" x2="2119.7" y2="2117" stroke="#808080" stroke-width="3.1"/>
<line x1="2083.7" y1="2145" x2="2119.7" y2="2145" stroke="#808080" stroke-width="3.1"/>
<circle cx="1379.5" cy="1446" r="31.999999999999996" fill="none" stroke="#868686" stroke-width="3.0"/>
<circle cx="1400.8" cy="1552" r="31.999999999999996" fill="none" stroke="#868686" stroke-width="3.0"/>
<circle cx="1446.8" cy="1613.7" r="31.999999999999996" fill="none" stroke="#868686" stroke-width="3.0"/>
<circle cx="1490" cy="1625.2" r="31.999999999999996" fill="none" stroke="#868686" stroke-width="3.0"/>
<circle cx="1728.4" cy="1814" r="31.999999999999996" fill="none" stroke="#868686" stroke-width="3.0"/>
<circle cx="2101.7" cy="2128.7" r="31.999999999999996" fill="none" stroke="#868686" stroke-width="3.0"/>
<line x1="1379.5" y1="1390.7" x2="1379.5" y2="1505.5" stroke="#808080" stroke-width="3.1"/>
<line x1="1361.5" y1="1390.7" x2="1397.5" y2="1390.7" stroke="#808080" stroke-width="3.1"/>
<line x1="1361.5" y1="1505.5" x2="1397.5" y2="1505.5" stroke="#808080" stroke-width="3.1"/>
<line x1="1446.8" y1="1566.6" x2="1446.8" y2="1738" stroke="#808080" stroke-width="3.1"/>
<line x1="1428.8" y1="1566.6" x2="1464.8" y2="1566.6" stroke="#808080" stroke-width="3.1"/>
<line x1="1428.8" y1="1738" x2="1464.8" y2="1738" stroke="#808080" stroke-width="3.1"/>
<line x1="1542.7" y1="1674" x2="1542.7" y2="1848" stroke="#808080" stroke-width="3.1"/>
<line x1="1524.7" y1="1674" x2="1560.7" y2="1674" stroke="#808080" stroke-width="3.1"/>
<line x1="1524.7" y1="1848" x2="1560.7" y2="1848" stroke="#808080" stroke-width="3.1"/>
<line x1="1728.4" y1="1728" x2="1728.4" y2="1822" stroke="#808080" stroke-width="3.1"/>
<line x1="1710.4" y1="1728" x2="1746.4" y2="1728" stroke="#808080" stroke-width="3.1"/>
<line x1="1710.4" y1="1822" x2="1746.4" y2="1822" stroke="#808080" stroke-width="3.1"/>
</g>
</g>
<g id="markers" fill="#000" filter="url(#bm)">
<circle cx="409.1" cy="210.8" r="32.3"/>
<circle cx="452" cy="215.6" r="32.3"/>
<circle cx="512.7" cy="333" r="32.3"/>
<circle cx="616.5" cy="391" r="32.3"/>
<circle cx="825.1" cy="525.7" r="32.3"/>
<circle cx="1126.3" cy="603" r="32.3"/>
<circle cx="1356.4" cy="185.6" r="32.3"/>
<circle cx="1377" cy="206" r="32.3"/>
<circle cx="1400.8" cy="217.6" r="32.3"/>
<circle cx="1465.3" cy="257.2" r="32.3"/>
<circle cx="1575.3" cy="313" r="32.3"/>
<circle cx="1791.9" cy="383" r="32.3"/>
<circle cx="2010.5" cy="606" r="32.3"/>
<circle cx="413.2" cy="1445.4" r="32.3"/>
<circle cx="539" cy="1549.3" r="32.3"/>
<circle cx="665.3" cy="1608.3" r="32.3"/>
<circle cx="916.6" cy="1808.7" r="32.3"/>
<circle cx="1169.9" cy="1931.4" r="32.3"/>
<circle cx="1356.7" cy="1445.6" r="32.3"/>
<circle cx="1380.7" cy="1455.6" r="32.3"/>
<circle cx="1402.6" cy="1488.6" r="32.3"/>
<circle cx="1447.4" cy="1650.7" r="32.3"/>
<circle cx="1542.7" cy="1761" r="32.3"/>
<circle cx="1728.4" cy="1775.3" r="32.3"/>
<circle cx="2101.7" cy="1915" r="32.3"/>
</g>
<g id="labels" filter="url(#bt)">
<text transform="translate(341.5,247.4) scale(1.03,1.03)" font-size="102" font-weight="bold" text-anchor="end" stroke-width="0.4" letter-spacing="-2.5">100</text>
<text transform="translate(341.5,603.5) scale(1.03,1.03)" font-size="102" font-weight="bold" text-anchor="end" stroke-width="0.4" letter-spacing="-2.5">50</text>
<text transform="translate(341.5,961.2) scale(1.03,1.03)" font-size="102" font-weight="bold" text-anchor="end" stroke-width="0.4" letter-spacing="-2.5">0</text>
<text transform="translate(406.6,1073.3) scale(1.03,1.03)" font-size="102" font-weight="bold" text-anchor="middle" stroke-width="0.4" letter-spacing="-2.5">0</text>
<text transform="translate(733.2,1073.3) scale(1.03,1.03)" font-size="102" font-weight="bold" text-anchor="middle" stroke-width="0.4" letter-spacing="-2.5">3</text>
<text transform="translate(1063.7,1073.3) scale(1.03,1.03)" font-size="102" font-weight="bold" text-anchor="middle" stroke-width="0.4" letter-spacing="-2.5">6</text>
<text transform="translate(499.3,1209.5) scale(1.0,1.01)" font-size="102" font-weight="bold" text-anchor="start" stroke-width="0.4" textLength="637.2" lengthAdjust="spacingAndGlyphs">[Protein] (µM)</text>
<text transform="translate(464.5,877.5)" font-size="118" font-weight="normal" text-anchor="start" stroke-width="0.6">a</text>
<text transform="translate(1354.8,1063.6) scale(1.03,1.03)" font-size="102" font-weight="bold" text-anchor="middle" stroke-width="0.4" letter-spacing="-2.5">0</text>
<text transform="translate(1739.2,1063.6) scale(1.03,1.03)" font-size="102" font-weight="bold" text-anchor="middle" stroke-width="0.4" letter-spacing="-2.5">15</text>
<text transform="translate(2120.5,1063.6) scale(1.03,1.03)" font-size="102" font-weight="bold" text-anchor="middle" stroke-width="0.4" letter-spacing="-2.5">30</text>
<text transform="translate(1340.2,1200.5) scale(1.0,1.01)" font-size="102" font-weight="bold" text-anchor="start" stroke-width="0.4" textLength="844" lengthAdjust="spacingAndGlyphs">[Polyphenols] (µM)</text>
<text transform="translate(1413.5,865) scale(1.04,1.0)" font-size="117.5" font-weight="normal" text-anchor="start" stroke-width="0.6">b</text>
<text transform="translate(343.8,1478.9) scale(1.03,1.03)" font-size="102" font-weight="bold" text-anchor="end" stroke-width="0.4" letter-spacing="-2.5">100</text>
<text transform="translate(343.8,1835.8) scale(1.03,1.03)" font-size="102" font-weight="bold" text-anchor="end" stroke-width="0.4" letter-spacing="-2.5">50</text>
<text transform="translate(343.8,2194.3) scale(1.03,1.03)" font-size="102" font-weight="bold" text-anchor="end" stroke-width="0.4" letter-spacing="-2.5">0</text>
<text transform="translate(410.7,2304.3) scale(1.03,1.03)" font-size="102" font-weight="bold" text-anchor="middle" stroke-width="0.4" letter-spacing="-2.5">0</text>
<text transform="translate(762.5,2304.3) scale(1.03,1.03)" font-size="102" font-weight="bold" text-anchor="middle" stroke-width="0.4" letter-spacing="-2.5">25</text>
<text transform="translate(1113.2,2304.3) scale(1.03,1.03)" font-size="102" font-weight="bold" text-anchor="middle" stroke-width="0.4" letter-spacing="-2.5">50</text>
<text transform="translate(387.6,2441.5) scale(1.0,1.01)" font-size="102" font-weight="bold" text-anchor="start" stroke-width="0.4" textLength="842.7" lengthAdjust="spacingAndGlyphs">[Polyphenols] (µM)</text>
<text transform="translate(470.5,2101.5)" font-size="118" font-weight="normal" text-anchor="start" stroke-width="0.6">c</text>
<text transform="translate(1355.1,2304.3) scale(1.03,1.03)" font-size="102" font-weight="bold" text-anchor="middle" stroke-width="0.4" letter-spacing="-2.5">0</text>
<text transform="translate(1691.4,2304.3) scale(1.03,1.03)" font-size="102" font-weight="bold" text-anchor="middle" stroke-width="0.4" letter-spacing="-2.5">30</text>
<text transform="translate(2029.7,2304.3) scale(1.03,1.03)" font-size="102" font-weight="bold" text-anchor="middle" stroke-width="0.4" letter-spacing="-2.5">60</text>
<text transform="translate(1333.2,2441.5) scale(1.0,1.01)" font-size="102" font-weight="bold" text-anchor="start" stroke-width="0.4" textLength="842" lengthAdjust="spacingAndGlyphs">[Polyphenols] (µM)</text>
<text transform="translate(1409.5,2104.5) scale(1.04,1.0)" font-size="117.5" font-weight="normal" text-anchor="start" stroke-width="0.6">d</text>
<text transform="translate(120.8,1987.6) rotate(-90) scale(1.0,1.01)" font-size="102" font-weight="bold" text-anchor="start" stroke-width="0.4" textLength="1562" lengthAdjust="spacingAndGlyphs">Residual cholinesterase activity (%)</text>
</g>
</svg>
</body>
</html>
